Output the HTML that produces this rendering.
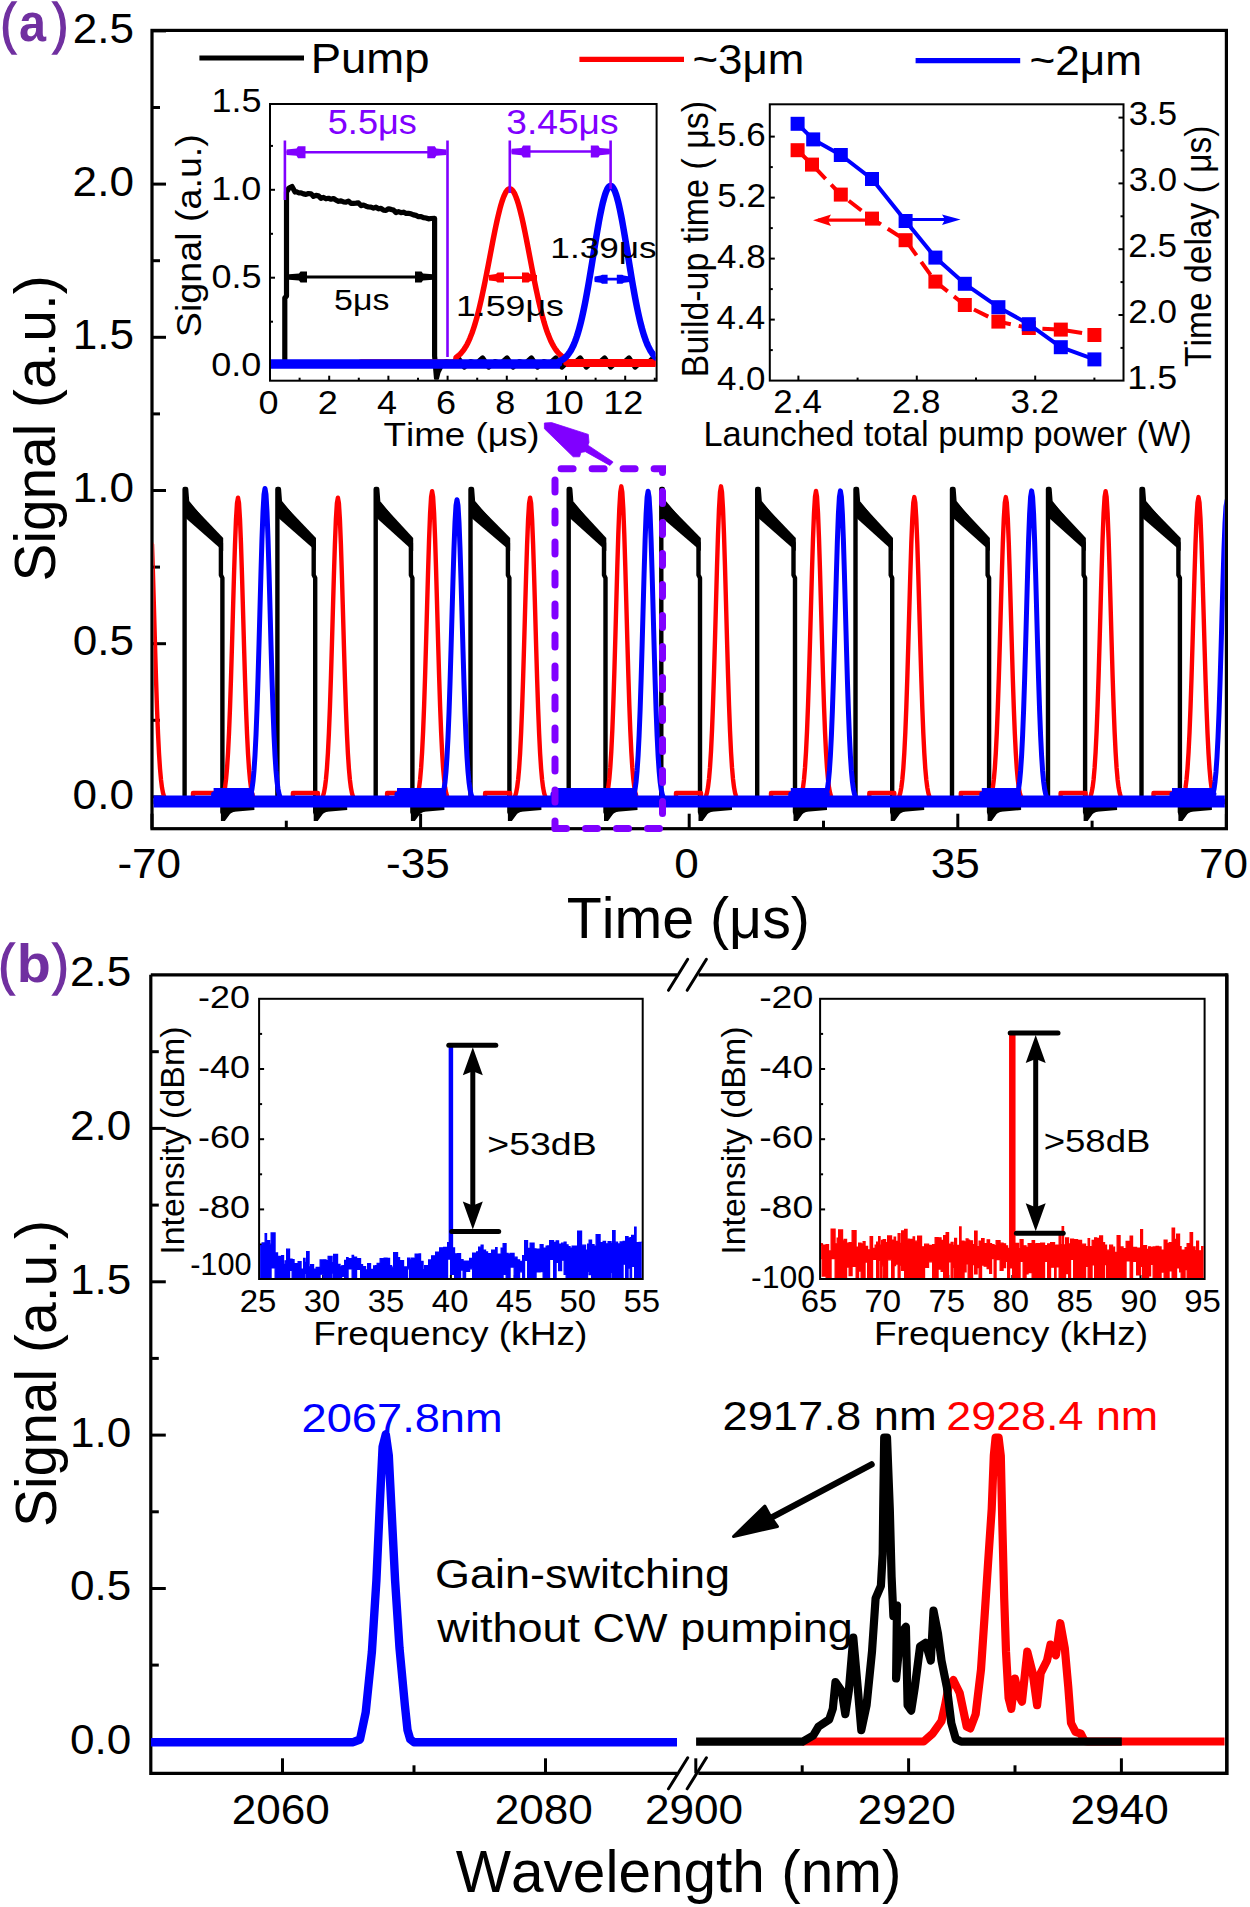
<!DOCTYPE html>
<html><head><meta charset="utf-8"><style>
html,body{margin:0;padding:0;background:#fff;}
svg{display:block;}
text{font-family:"Liberation Sans",sans-serif;font-kerning:none;font-feature-settings:"kern" 0;}
</style></head><body>
<svg width="1250" height="1907" viewBox="0 0 1250 1907">
<rect x="0" y="0" width="1250" height="1907" fill="#fff"/>
<rect x="152.0" y="30.4" width="1074.4" height="798.3" fill="none" stroke="#000" stroke-width="3.2"/>
<line x1="152.0" y1="796.9" x2="166.0" y2="796.9" stroke="#000" stroke-width="3.00"/>
<line x1="152.0" y1="720.3" x2="160.0" y2="720.3" stroke="#000" stroke-width="3.00"/>
<line x1="152.0" y1="643.7" x2="166.0" y2="643.7" stroke="#000" stroke-width="3.00"/>
<line x1="152.0" y1="567.1" x2="160.0" y2="567.1" stroke="#000" stroke-width="3.00"/>
<line x1="152.0" y1="490.5" x2="166.0" y2="490.5" stroke="#000" stroke-width="3.00"/>
<line x1="152.0" y1="413.9" x2="160.0" y2="413.9" stroke="#000" stroke-width="3.00"/>
<line x1="152.0" y1="337.3" x2="166.0" y2="337.3" stroke="#000" stroke-width="3.00"/>
<line x1="152.0" y1="260.7" x2="160.0" y2="260.7" stroke="#000" stroke-width="3.00"/>
<line x1="152.0" y1="184.1" x2="166.0" y2="184.1" stroke="#000" stroke-width="3.00"/>
<line x1="152.0" y1="107.5" x2="160.0" y2="107.5" stroke="#000" stroke-width="3.00"/>
<line x1="152.0" y1="30.9" x2="166.0" y2="30.9" stroke="#000" stroke-width="3.00"/>
<line x1="152.0" y1="828.7" x2="152.0" y2="813.7" stroke="#000" stroke-width="3.00"/>
<line x1="420.6" y1="828.7" x2="420.6" y2="813.7" stroke="#000" stroke-width="3.00"/>
<line x1="689.2" y1="828.7" x2="689.2" y2="813.7" stroke="#000" stroke-width="3.00"/>
<line x1="957.8" y1="828.7" x2="957.8" y2="813.7" stroke="#000" stroke-width="3.00"/>
<line x1="1226.4" y1="828.7" x2="1226.4" y2="813.7" stroke="#000" stroke-width="3.00"/>
<line x1="286.3" y1="828.7" x2="286.3" y2="820.7" stroke="#000" stroke-width="3.00"/>
<line x1="554.9" y1="828.7" x2="554.9" y2="820.7" stroke="#000" stroke-width="3.00"/>
<line x1="823.5" y1="828.7" x2="823.5" y2="820.7" stroke="#000" stroke-width="3.00"/>
<line x1="1092.1" y1="828.7" x2="1092.1" y2="820.7" stroke="#000" stroke-width="3.00"/>
<text transform="translate(72.62,808.50) scale(1.0500,1)" font-size="42.00" fill="#000">0.0</text>
<text transform="translate(72.75,655.30) scale(1.0500,1)" font-size="42.00" fill="#000">0.5</text>
<text transform="translate(72.62,502.10) scale(1.0500,1)" font-size="42.00" fill="#000">1.0</text>
<text transform="translate(72.75,348.90) scale(1.0500,1)" font-size="42.00" fill="#000">1.5</text>
<text transform="translate(72.62,195.70) scale(1.0500,1)" font-size="42.00" fill="#000">2.0</text>
<text transform="translate(72.75,42.50) scale(1.0500,1)" font-size="42.00" fill="#000">2.5</text>
<text transform="translate(117.41,878.30) scale(1.0500,1)" font-size="42.00" fill="#000">-70</text>
<text transform="translate(386.08,878.30) scale(1.0500,1)" font-size="42.00" fill="#000">-35</text>
<text transform="translate(674.34,878.30) scale(1.0500,1)" font-size="42.00" fill="#000">0</text>
<text transform="translate(930.76,878.30) scale(1.0500,1)" font-size="42.00" fill="#000">35</text>
<text transform="translate(1199.00,878.30) scale(1.0500,1)" font-size="42.00" fill="#000">70</text>
<text transform="translate(566.71,937.60) scale(1.0060,1)" font-size="57.00" fill="#000">Time (μs)</text>
<text transform="translate(55.00,581.48) rotate(-90) scale(0.9960,1)" font-size="57.00" fill="#000">Signal (a.u.)</text>
<text transform="translate(0.38,42.18) scale(0.8545,1)" font-size="55.17" fill="#7030a0" stroke="#7030a0" stroke-width="1.6">(</text>
<text transform="translate(18.98,40.97) scale(0.9021,1)" font-size="53.85" fill="#7030a0" font-weight="bold">a</text>
<text transform="translate(52.52,42.18) scale(0.8545,1)" font-size="55.17" fill="#7030a0" stroke="#7030a0" stroke-width="1.6">)</text>
<line x1="199.4" y1="58.0" x2="304.0" y2="58.0" stroke="#000" stroke-width="5.20"/>
<text transform="translate(310.67,72.60) scale(1.0695,1)" font-size="42.50" fill="#000">Pump</text>
<line x1="579.4" y1="59.4" x2="684.0" y2="59.4" stroke="#ff0000" stroke-width="5.20"/>
<text transform="translate(692.43,74.10) scale(1.0315,1)" font-size="42.50" fill="#000">~3μm</text>
<line x1="915.6" y1="60.6" x2="1020.2" y2="60.6" stroke="#0000ff" stroke-width="5.20"/>
<text transform="translate(1029.41,75.30) scale(1.0402,1)" font-size="42.50" fill="#000">~2μm</text>
<clipPath id="ca"><rect x="153.6" y="32.0" width="1071.2" height="795.1"/></clipPath>
<g clip-path="url(#ca)">
<polyline points="152.0,802.0 183.6,802.0 184.6,801.0 184.6,489.0 186.1,489.0 187.1,502.0 220.9,543.0 220.9,575.0 222.4,578.0 222.4,812.0 224.4,817.0 228.4,812.0 236.4,808.0 250.4,804.0 262.4,802.0 276.4,802.0 277.4,801.0 277.4,489.0 278.9,489.0 279.9,502.0 313.7,543.0 313.7,575.0 315.2,578.0 315.2,812.0 317.2,817.0 321.2,812.0 329.2,808.0 343.2,804.0 355.2,802.0 374.7,802.0 375.7,801.0 375.7,489.0 377.2,489.0 378.2,502.0 410.9,543.0 410.9,575.0 412.4,578.0 412.4,812.0 414.4,817.0 418.4,812.0 426.4,808.0 440.4,804.0 452.4,802.0 469.5,802.0 470.5,801.0 470.5,489.0 472.0,489.0 473.0,502.0 507.9,543.0 507.9,575.0 509.4,578.0 509.4,812.0 511.4,817.0 515.4,812.0 523.4,808.0 537.4,804.0 549.4,802.0 567.7,802.0 568.7,801.0 568.7,489.0 570.2,489.0 571.2,502.0 604.0,543.0 604.0,575.0 605.5,578.0 605.5,812.0 607.5,817.0 611.5,812.0 619.5,808.0 633.5,804.0 645.5,802.0 660.3,802.0 661.3,801.0 661.3,489.0 662.8,489.0 663.8,502.0 698.5,543.0 698.5,575.0 700.0,578.0 700.0,812.0 702.0,817.0 706.0,812.0 714.0,808.0 728.0,804.0 740.0,802.0 756.2,802.0 757.2,801.0 757.2,489.0 758.7,489.0 759.7,502.0 793.5,543.0 793.5,575.0 795.0,578.0 795.0,812.0 797.0,817.0 801.0,812.0 809.0,808.0 823.0,804.0 835.0,802.0 854.5,802.0 855.5,801.0 855.5,489.0 857.0,489.0 858.0,502.0 890.7,543.0 890.7,575.0 892.2,578.0 892.2,812.0 894.2,817.0 898.2,812.0 906.2,808.0 920.2,804.0 932.2,802.0 951.0,802.0 952.0,801.0 952.0,489.0 953.5,489.0 954.5,502.0 987.6,543.0 987.6,575.0 989.1,578.0 989.1,812.0 991.1,817.0 995.1,812.0 1003.1,808.0 1017.1,804.0 1029.1,802.0 1047.0,802.0 1048.0,801.0 1048.0,489.0 1049.5,489.0 1050.5,502.0 1083.6,543.0 1083.6,575.0 1085.1,578.0 1085.1,812.0 1087.1,817.0 1091.1,812.0 1099.1,808.0 1113.1,804.0 1125.1,802.0 1140.5,802.0 1141.5,801.0 1141.5,489.0 1143.0,489.0 1144.0,502.0 1178.4,543.0 1178.4,575.0 1179.9,578.0 1179.9,812.0 1181.9,817.0 1185.9,812.0 1193.9,808.0 1207.9,804.0 1219.9,802.0 1226.4,802.0" fill="none" stroke="#000" stroke-width="4.40" stroke-linejoin="round" stroke-linecap="round"/>
<polygon points="185.6,499.0 192.6,506.0 223.2,538.0 223.2,551.0 185.6,518.0" fill="#000"/>
<polygon points="220.9,806 220.9,821 224.9,821 231.4,812 254.4,810 254.4,806" fill="#000"/>
<polygon points="278.4,499.0 285.4,506.0 316.0,538.0 316.0,551.0 278.4,518.0" fill="#000"/>
<polygon points="313.7,806 313.7,821 317.7,821 324.2,812 347.2,810 347.2,806" fill="#000"/>
<polygon points="376.7,499.0 383.7,506.0 413.2,538.0 413.2,551.0 376.7,518.0" fill="#000"/>
<polygon points="410.9,806 410.9,821 414.9,821 421.4,812 444.4,810 444.4,806" fill="#000"/>
<polygon points="471.5,499.0 478.5,506.0 510.2,538.0 510.2,551.0 471.5,518.0" fill="#000"/>
<polygon points="507.9,806 507.9,821 511.9,821 518.4,812 541.4,810 541.4,806" fill="#000"/>
<polygon points="569.7,499.0 576.7,506.0 606.3,538.0 606.3,551.0 569.7,518.0" fill="#000"/>
<polygon points="604.0,806 604.0,821 608.0,821 614.5,812 637.5,810 637.5,806" fill="#000"/>
<polygon points="662.3,499.0 669.3,506.0 700.8,538.0 700.8,551.0 662.3,518.0" fill="#000"/>
<polygon points="698.5,806 698.5,821 702.5,821 709.0,812 732.0,810 732.0,806" fill="#000"/>
<polygon points="758.2,499.0 765.2,506.0 795.8,538.0 795.8,551.0 758.2,518.0" fill="#000"/>
<polygon points="793.5,806 793.5,821 797.5,821 804.0,812 827.0,810 827.0,806" fill="#000"/>
<polygon points="856.5,499.0 863.5,506.0 893.0,538.0 893.0,551.0 856.5,518.0" fill="#000"/>
<polygon points="890.7,806 890.7,821 894.7,821 901.2,812 924.2,810 924.2,806" fill="#000"/>
<polygon points="953.0,499.0 960.0,506.0 989.9,538.0 989.9,551.0 953.0,518.0" fill="#000"/>
<polygon points="987.6,806 987.6,821 991.6,821 998.1,812 1021.1,810 1021.1,806" fill="#000"/>
<polygon points="1049.0,499.0 1056.0,506.0 1085.9,538.0 1085.9,551.0 1049.0,518.0" fill="#000"/>
<polygon points="1083.6,806 1083.6,821 1087.6,821 1094.1,812 1117.1,810 1117.1,806" fill="#000"/>
<polygon points="1142.5,499.0 1149.5,506.0 1180.7,538.0 1180.7,551.0 1142.5,518.0" fill="#000"/>
<polygon points="1178.4,806 1178.4,821 1182.4,821 1188.9,812 1211.9,810 1211.9,806" fill="#000"/>
<polyline points="152.0,544.2 153.0,575.4 154.0,609.9 155.0,645.1 156.0,678.4 157.0,708.1 158.0,733.2 159.0,753.3 160.0,768.6 161.0,779.8 162.0,787.7 163.0,792.9 164.0,796.3 165.0,798.3 166.0,799.6 167.0,800.2 168.0,800.6 169.0,800.8 170.0,800.9 171.0,801.0 173.0,801.0 193.0,801.0 193.0,793.0 218.0,793.0 218.0,800.8 219.0,800.6 220.0,800.2 221.0,799.6 222.0,798.3 223.0,796.3 224.0,792.9 225.0,787.7 226.0,779.8 227.0,768.6 228.0,753.3 229.0,733.2 230.0,708.1 231.0,678.4 232.0,645.1 233.0,609.9 234.0,575.4 235.0,544.2 236.0,519.3 237.0,503.2 238.0,497.7 239.0,503.2 240.0,519.3 241.0,544.2 242.0,575.4 243.0,609.9 244.0,645.1 245.0,678.4 246.0,708.1 247.0,733.2 248.0,753.3 249.0,768.6 250.0,779.8 251.0,787.7 252.0,792.9 253.0,796.3 254.0,798.3 255.0,799.6 256.0,800.2 257.0,800.6 258.0,800.8 259.0,800.9 260.0,801.0 262.0,801.0 292.9,801.0 292.9,793.0 317.9,793.0 317.9,800.8 318.9,800.6 319.9,800.2 320.9,799.6 321.9,798.3 322.9,796.3 323.9,792.9 324.9,787.7 325.9,779.8 326.9,768.6 327.9,753.3 328.9,733.2 329.9,708.1 330.9,678.4 331.9,645.1 332.9,609.9 333.9,575.4 334.9,544.2 335.9,519.3 336.9,503.2 337.9,497.7 338.9,503.2 339.9,519.3 340.9,544.2 341.9,575.4 342.9,609.9 343.9,645.1 344.9,678.4 345.9,708.1 346.9,733.2 347.9,753.3 348.9,768.6 349.9,779.8 350.9,787.7 351.9,792.9 352.9,796.3 353.9,798.3 354.9,799.6 355.9,800.2 356.9,800.6 357.9,800.8 358.9,800.9 359.9,801.0 361.9,801.0 387.1,801.0 387.1,793.0 412.1,793.0 412.1,800.8 413.1,800.6 414.1,800.2 415.1,799.5 416.1,798.3 417.1,796.2 418.1,792.7 419.1,787.4 420.1,779.4 421.1,767.9 422.1,752.2 423.1,731.7 424.1,706.1 425.1,675.8 426.1,641.8 427.1,605.9 428.1,570.6 429.1,538.7 430.1,513.3 431.1,496.9 432.1,491.2 433.1,496.9 434.1,513.3 435.1,538.7 436.1,570.6 437.1,605.9 438.1,641.8 439.1,675.8 440.1,706.1 441.1,731.7 442.1,752.2 443.1,767.9 444.1,779.4 445.1,787.4 446.1,792.7 447.1,796.2 448.1,798.3 449.1,799.5 450.1,800.2 451.1,800.6 452.1,800.8 453.1,800.9 454.1,801.0 456.1,801.0 485.1,801.0 485.1,793.0 510.1,793.0 510.1,800.8 511.1,800.6 512.1,800.2 513.1,799.6 514.1,798.3 515.1,796.3 516.1,792.9 517.1,787.7 518.1,779.8 519.1,768.6 520.1,753.3 521.1,733.2 522.1,708.1 523.1,678.4 524.1,645.1 525.1,609.9 526.1,575.4 527.1,544.2 528.1,519.3 529.1,503.2 530.1,497.7 531.1,503.2 532.1,519.3 533.1,544.2 534.1,575.4 535.1,609.9 536.1,645.1 537.1,678.4 538.1,708.1 539.1,733.2 540.1,753.3 541.1,768.6 542.1,779.8 543.1,787.7 544.1,792.9 545.1,796.3 546.1,798.3 547.1,799.6 548.1,800.2 549.1,800.6 550.1,800.8 551.1,800.9 552.1,801.0 554.1,801.0 576.3,801.0 576.3,793.0 601.3,793.0 601.3,800.8 602.3,800.6 603.3,800.2 604.3,799.5 605.3,798.2 606.3,796.1 607.3,792.6 608.3,787.2 609.3,779.0 610.3,767.4 611.3,751.5 612.3,730.6 613.3,704.6 614.3,673.8 615.3,639.3 616.3,602.8 617.3,566.9 618.3,534.6 619.3,508.8 620.3,492.1 621.3,486.3 622.3,492.1 623.3,508.8 624.3,534.6 625.3,566.9 626.3,602.8 627.3,639.3 628.3,673.8 629.3,704.6 630.3,730.6 631.3,751.5 632.3,767.4 633.3,779.0 634.3,787.2 635.3,792.6 636.3,796.1 637.3,798.2 638.3,799.5 639.3,800.2 640.3,800.6 641.3,800.8 642.3,800.9 643.3,801.0 645.3,801.0 676.0,801.0 676.0,793.0 701.0,793.0 701.0,800.8 702.0,800.6 703.0,800.2 704.0,799.5 705.0,798.2 706.0,796.1 707.0,792.6 708.0,787.2 709.0,779.0 710.0,767.4 711.0,751.5 712.0,730.6 713.0,704.6 714.0,673.8 715.0,639.3 716.0,602.8 717.0,566.9 718.0,534.6 719.0,508.8 720.0,492.1 721.0,486.3 722.0,492.1 723.0,508.8 724.0,534.6 725.0,566.9 726.0,602.8 727.0,639.3 728.0,673.8 729.0,704.6 730.0,730.6 731.0,751.5 732.0,767.4 733.0,779.0 734.0,787.2 735.0,792.6 736.0,796.1 737.0,798.2 738.0,799.5 739.0,800.2 740.0,800.6 741.0,800.8 742.0,800.9 743.0,801.0 745.0,801.0 771.0,801.0 771.0,793.0 796.0,793.0 796.0,800.8 797.0,800.6 798.0,800.2 799.0,799.5 800.0,798.3 801.0,796.2 802.0,792.7 803.0,787.4 804.0,779.4 805.0,767.9 806.0,752.2 807.0,731.7 808.0,706.0 809.0,675.7 810.0,641.6 811.0,605.7 812.0,570.3 813.0,538.5 814.0,513.0 815.0,496.6 816.0,490.9 817.0,496.6 818.0,513.0 819.0,538.5 820.0,570.3 821.0,605.7 822.0,641.6 823.0,675.7 824.0,706.0 825.0,731.7 826.0,752.2 827.0,767.9 828.0,779.4 829.0,787.4 830.0,792.7 831.0,796.2 832.0,798.3 833.0,799.5 834.0,800.2 835.0,800.6 836.0,800.8 837.0,800.9 838.0,801.0 840.0,801.0 869.3,801.0 869.3,793.0 894.3,793.0 894.3,800.8 895.3,800.6 896.3,800.2 897.3,799.5 898.3,798.3 899.3,796.3 900.3,792.9 901.3,787.6 902.3,779.8 903.3,768.6 904.3,753.2 905.3,733.0 906.3,707.9 907.3,678.2 908.3,644.8 909.3,609.6 910.3,574.9 911.3,543.6 912.3,518.7 913.3,502.6 914.3,497.1 915.3,502.6 916.3,518.7 917.3,543.6 918.3,574.9 919.3,609.6 920.3,644.8 921.3,678.2 922.3,707.9 923.3,733.0 924.3,753.2 925.3,768.6 926.3,779.8 927.3,787.6 928.3,792.9 929.3,796.3 930.3,798.3 931.3,799.5 932.3,800.2 933.3,800.6 934.3,800.8 935.3,800.9 936.3,801.0 938.3,801.0 960.8,801.0 960.8,793.0 985.8,793.0 985.8,800.8 986.8,800.6 987.8,800.2 988.8,799.5 989.8,798.3 990.8,796.3 991.8,792.9 992.8,787.6 993.8,779.8 994.8,768.6 995.8,753.2 996.8,733.0 997.8,707.9 998.8,678.2 999.8,644.8 1000.8,609.6 1001.8,574.9 1002.8,543.6 1003.8,518.7 1004.8,502.6 1005.8,497.1 1006.8,502.6 1007.8,518.7 1008.8,543.6 1009.8,574.9 1010.8,609.6 1011.8,644.8 1012.8,678.2 1013.8,707.9 1014.8,733.0 1015.8,753.2 1016.8,768.6 1017.8,779.8 1018.8,787.6 1019.8,792.9 1020.8,796.3 1021.8,798.3 1022.8,799.5 1023.8,800.2 1024.8,800.6 1025.8,800.8 1026.8,800.9 1027.8,801.0 1029.8,801.0 1060.6,801.0 1060.6,793.0 1085.6,793.0 1085.6,800.8 1086.6,800.6 1087.6,800.2 1088.6,799.5 1089.6,798.3 1090.6,796.2 1091.6,792.7 1092.6,787.4 1093.6,779.4 1094.6,767.9 1095.6,752.2 1096.6,731.7 1097.6,706.1 1098.6,675.8 1099.6,641.8 1100.6,605.9 1101.6,570.6 1102.6,538.7 1103.6,513.3 1104.6,496.9 1105.6,491.2 1106.6,496.9 1107.6,513.3 1108.6,538.7 1109.6,570.6 1110.6,605.9 1111.6,641.8 1112.6,675.8 1113.6,706.1 1114.6,731.7 1115.6,752.2 1116.6,767.9 1117.6,779.4 1118.6,787.4 1119.6,792.7 1120.6,796.2 1121.6,798.3 1122.6,799.5 1123.6,800.2 1124.6,800.6 1125.6,800.8 1126.6,800.9 1127.6,801.0 1129.6,801.0 1153.5,801.0 1153.5,793.0 1178.5,793.0 1178.5,800.8 1179.5,800.6 1180.5,800.2 1181.5,799.5 1182.5,798.3 1183.5,796.3 1184.5,792.9 1185.5,787.6 1186.5,779.8 1187.5,768.6 1188.5,753.2 1189.5,733.0 1190.5,707.9 1191.5,678.2 1192.5,644.8 1193.5,609.6 1194.5,574.9 1195.5,543.6 1196.5,518.7 1197.5,502.6 1198.5,497.1 1199.5,502.6 1200.5,518.7 1201.5,543.6 1202.5,574.9 1203.5,609.6 1204.5,644.8 1205.5,678.2 1206.5,707.9 1207.5,733.0 1208.5,753.2 1209.5,768.6 1210.5,779.8 1211.5,787.6 1212.5,792.9 1213.5,796.3 1214.5,798.3 1215.5,799.5 1216.5,800.2 1217.5,800.6 1218.5,800.8 1219.5,800.9 1220.5,801.0 1226.4,801.0" fill="none" stroke="#ff0000" stroke-width="4.40" stroke-linejoin="round" stroke-linecap="round"/>
<polyline points="152.0,801.0 213.6,801.0 213.6,794.0 252.0,794.0 251.0,793.8 252.0,788.9 253.0,781.4 254.0,770.5 255.0,755.3 256.0,735.1 257.0,709.7 258.0,679.2 259.0,644.6 260.0,607.7 261.0,571.2 262.0,538.1 263.0,511.6 264.0,494.4 265.0,488.5 266.0,494.4 267.0,511.6 268.0,538.1 269.0,571.2 270.0,607.7 271.0,644.6 272.0,679.2 273.0,709.7 274.0,735.1 275.0,755.3 276.0,770.5 277.0,781.4 278.0,788.9 279.0,793.8 280.0,796.9 281.0,798.7 282.0,799.8 397.0,801.0 397.0,794.0 444.0,794.0 443.0,794.0 444.0,789.3 445.0,782.1 446.0,771.6 447.0,756.9 448.0,737.5 449.0,713.0 450.0,683.6 451.0,650.2 452.0,614.7 453.0,579.6 454.0,547.7 455.0,522.1 456.0,505.5 457.0,499.8 458.0,505.5 459.0,522.1 460.0,547.7 461.0,579.6 462.0,614.7 463.0,650.2 464.0,683.6 465.0,713.0 466.0,737.5 467.0,756.9 468.0,771.6 469.0,782.1 470.0,789.3 471.0,794.0 472.0,797.0 473.0,798.8 474.0,799.8 553.0,801.0 553.0,794.0 635.1,794.0 634.1,793.8 635.1,789.0 636.1,781.6 637.1,770.7 638.1,755.7 639.1,735.7 640.1,710.5 641.1,680.2 642.1,645.9 643.1,609.4 644.1,573.2 645.1,540.4 646.1,514.2 647.1,497.1 648.1,491.2 649.1,497.1 650.1,514.2 651.1,540.4 652.1,573.2 653.1,609.4 654.1,645.9 655.1,680.2 656.1,710.5 657.1,735.7 658.1,755.7 659.1,770.7 660.1,781.6 661.1,789.0 662.1,793.8 663.1,796.9 664.1,798.7 665.1,799.8 790.8,801.0 790.8,794.0 827.4,794.0 826.4,793.8 827.4,789.0 828.4,781.5 829.4,770.7 830.4,755.6 831.4,735.7 832.4,710.4 833.4,680.1 834.4,645.8 835.4,609.2 836.4,573.0 837.4,540.2 838.4,513.9 839.4,496.8 840.4,490.9 841.4,496.8 842.4,513.9 843.4,540.2 844.4,573.0 845.4,609.2 846.4,645.8 847.4,680.1 848.4,710.4 849.4,735.7 850.4,755.6 851.4,770.7 852.4,781.5 853.4,789.0 854.4,793.8 855.4,796.9 856.4,798.7 857.4,799.8 981.8,801.0 981.8,794.0 1018.6,794.0 1017.6,793.8 1018.6,789.0 1019.6,781.5 1020.6,770.7 1021.6,755.6 1022.6,735.7 1023.6,710.4 1024.6,680.1 1025.6,645.8 1026.6,609.2 1027.6,573.0 1028.6,540.2 1029.6,513.9 1030.6,496.8 1031.6,490.9 1032.6,496.8 1033.6,513.9 1034.6,540.2 1035.6,573.0 1036.6,609.2 1037.6,645.8 1038.6,680.1 1039.6,710.4 1040.6,735.7 1041.6,755.6 1042.6,770.7 1043.6,781.5 1044.6,789.0 1045.6,793.8 1046.6,796.9 1047.6,798.7 1048.6,799.8 1172.0,801.0 1172.0,794.0 1214.0,794.0 1213.0,794.1 1214.0,789.3 1215.0,782.1 1216.0,771.7 1217.0,757.1 1218.0,737.7 1219.0,713.3 1220.0,683.9 1221.0,650.7 1222.0,615.3 1223.0,580.2 1224.0,548.4 1225.0,523.0 1226.0,506.4 1227.0,500.7 1228.0,506.4 1229.0,523.0 1230.0,548.4 1231.0,580.2 1232.0,615.3 1233.0,650.7 1234.0,683.9 1235.0,713.3 1236.0,737.7 1237.0,757.1 1238.0,771.7 1239.0,782.1 1240.0,789.3 1241.0,794.1 1242.0,797.0 1243.0,798.8 1244.0,799.8 1226.4,801.0" fill="none" stroke="#0000ff" stroke-width="5.00" stroke-linejoin="round" stroke-linecap="round"/>
<polyline points="152.0,801.4 1226.4,801.4" fill="none" stroke="#0000ff" stroke-width="12.00" stroke-linejoin="round" stroke-linecap="butt"/>
<polyline points="213.6,794.0 253.0,794.0" fill="none" stroke="#0000ff" stroke-width="12.00" stroke-linejoin="round" stroke-linecap="butt"/>
<polyline points="397.0,794.0 445.0,794.0" fill="none" stroke="#0000ff" stroke-width="12.00" stroke-linejoin="round" stroke-linecap="butt"/>
<polyline points="553.0,794.0 636.1,794.0" fill="none" stroke="#0000ff" stroke-width="12.00" stroke-linejoin="round" stroke-linecap="butt"/>
<polyline points="790.8,794.0 828.4,794.0" fill="none" stroke="#0000ff" stroke-width="12.00" stroke-linejoin="round" stroke-linecap="butt"/>
<polyline points="981.8,794.0 1019.6,794.0" fill="none" stroke="#0000ff" stroke-width="12.00" stroke-linejoin="round" stroke-linecap="butt"/>
<polyline points="1172.0,794.0 1215.0,794.0" fill="none" stroke="#0000ff" stroke-width="12.00" stroke-linejoin="round" stroke-linecap="butt"/>
</g>
<path d="M555,468.8 H662.5 V828.5" fill="none" stroke="#8000ff" stroke-width="7" stroke-dasharray="12 19" stroke-linecap="round" stroke-dashoffset="24.9"/>
<path d="M555,468.8 V828.5" fill="none" stroke="#8000ff" stroke-width="7" stroke-dasharray="12 19" stroke-linecap="round" stroke-dashoffset="19.7"/>
<path d="M555,828.5 H662.5" fill="none" stroke="#8000ff" stroke-width="7" stroke-dasharray="12 19" stroke-linecap="round" stroke-dashoffset="0.5"/>
<polygon points="544.4,423 551.6,422.6 588.3,434.4 589,442.4 587.9,445.2 612.8,461.8 612.8,462.5 609.9,465.4 585.4,451.7 581,452.4 579.6,456.8 573.2,456.8 544.4,428.7" fill="#8000ff" stroke="#8000ff" stroke-width="0.8" stroke-linejoin="round"/>
<rect x="270.0" y="104.0" width="386.6" height="276.7" fill="#fff" stroke="#000" stroke-width="2"/>
<line x1="270.0" y1="365.6" x2="275.0" y2="365.6" stroke="#000" stroke-width="2.00"/>
<line x1="270.0" y1="321.7" x2="273.0" y2="321.7" stroke="#000" stroke-width="2.00"/>
<line x1="270.0" y1="277.7" x2="275.0" y2="277.7" stroke="#000" stroke-width="2.00"/>
<line x1="270.0" y1="233.8" x2="273.0" y2="233.8" stroke="#000" stroke-width="2.00"/>
<line x1="270.0" y1="189.8" x2="275.0" y2="189.8" stroke="#000" stroke-width="2.00"/>
<line x1="270.0" y1="145.9" x2="273.0" y2="145.9" stroke="#000" stroke-width="2.00"/>
<line x1="299.6" y1="380.7" x2="299.6" y2="377.7" stroke="#000" stroke-width="2.00"/>
<line x1="329.2" y1="380.7" x2="329.2" y2="375.7" stroke="#000" stroke-width="2.00"/>
<line x1="358.8" y1="380.7" x2="358.8" y2="377.7" stroke="#000" stroke-width="2.00"/>
<line x1="388.4" y1="380.7" x2="388.4" y2="375.7" stroke="#000" stroke-width="2.00"/>
<line x1="418.0" y1="380.7" x2="418.0" y2="377.7" stroke="#000" stroke-width="2.00"/>
<line x1="447.6" y1="380.7" x2="447.6" y2="375.7" stroke="#000" stroke-width="2.00"/>
<line x1="477.2" y1="380.7" x2="477.2" y2="377.7" stroke="#000" stroke-width="2.00"/>
<line x1="506.8" y1="380.7" x2="506.8" y2="375.7" stroke="#000" stroke-width="2.00"/>
<line x1="536.4" y1="380.7" x2="536.4" y2="377.7" stroke="#000" stroke-width="2.00"/>
<line x1="566.0" y1="380.7" x2="566.0" y2="375.7" stroke="#000" stroke-width="2.00"/>
<line x1="595.6" y1="380.7" x2="595.6" y2="377.7" stroke="#000" stroke-width="2.00"/>
<line x1="625.2" y1="380.7" x2="625.2" y2="375.7" stroke="#000" stroke-width="2.00"/>
<line x1="654.8" y1="380.7" x2="654.8" y2="377.7" stroke="#000" stroke-width="2.00"/>
<text transform="translate(211.31,375.90) scale(1.0600,1)" font-size="34.00" fill="#000">0.0</text>
<text transform="translate(211.41,288.00) scale(1.0600,1)" font-size="34.00" fill="#000">0.5</text>
<text transform="translate(211.31,200.10) scale(1.0600,1)" font-size="34.00" fill="#000">1.0</text>
<text transform="translate(211.41,112.20) scale(1.0600,1)" font-size="34.00" fill="#000">1.5</text>
<text transform="translate(258.48,413.60) scale(1.0600,1)" font-size="34.00" fill="#000">0</text>
<text transform="translate(317.68,413.60) scale(1.0600,1)" font-size="34.00" fill="#000">2</text>
<text transform="translate(376.99,413.60) scale(1.0600,1)" font-size="34.00" fill="#000">4</text>
<text transform="translate(435.95,413.60) scale(1.0600,1)" font-size="34.00" fill="#000">6</text>
<text transform="translate(495.28,413.60) scale(1.0600,1)" font-size="34.00" fill="#000">8</text>
<text transform="translate(543.79,413.60) scale(1.0600,1)" font-size="34.00" fill="#000">10</text>
<text transform="translate(603.19,413.60) scale(1.0600,1)" font-size="34.00" fill="#000">12</text>
<text transform="translate(383.57,445.80) scale(1.0816,1)" font-size="34.00" fill="#000">Time (μs)</text>
<text transform="translate(200.80,337.21) rotate(-90) scale(1.0614,1)" font-size="35.50" fill="#000">Signal (a.u.)</text>
<clipPath id="c1"><rect x="271.0" y="105.0" width="384.6" height="274.7"/></clipPath>
<g clip-path="url(#c1)">
<polyline points="270.0,363.5 284.0,363.5 284.8,364.0 284.8,298.0 286.5,296.0 286.5,192.0 289.0,188.0 292.0,186.5 295.0,192.0 296.0,191.5 298.5,192.8 301.0,192.8 303.5,193.9 306.0,194.4 308.5,193.5 311.0,193.8 313.5,196.4 316.0,195.4 318.5,195.8 321.0,198.3 323.5,197.4 326.0,198.8 328.5,198.3 331.0,199.2 333.5,198.5 336.0,200.2 338.5,201.3 341.0,200.9 343.5,201.9 346.0,202.2 348.5,201.1 351.0,203.4 353.5,203.4 356.0,203.2 358.5,202.9 361.0,205.6 363.5,205.0 366.0,206.2 368.5,207.0 371.0,207.1 373.5,208.1 376.0,207.2 378.5,208.8 381.0,208.3 383.5,210.1 386.0,210.4 388.5,208.8 391.0,209.4 393.5,210.1 396.0,212.5 398.5,211.6 401.0,212.6 403.5,212.2 406.0,213.3 408.5,213.4 411.0,213.8 413.5,214.9 416.0,215.4 418.5,216.7 421.0,216.6 423.5,217.7 426.0,218.0 428.5,218.8 431.0,218.5 434.6,218.4 434.6,356.0 436.5,378.0 438.0,372.0 441.0,366.0 446.0,362.0 446.0,361.6 452.1,363.4 458.2,358.0 464.3,367.0 470.4,361.6 476.5,363.4 482.6,358.0 488.7,367.0 494.8,361.6 500.9,363.4 507.0,358.0 513.1,367.0 519.2,361.6 525.3,363.4 531.4,358.0 537.5,367.0 543.6,361.6 549.7,363.4 555.8,358.0 561.9,367.0 568.0,361.6 574.1,363.4 580.2,358.0 586.3,367.0 592.4,361.6 598.5,363.4 604.6,358.0 610.7,367.0 616.8,361.6 622.9,363.4 629.0,358.0 635.1,367.0 641.2,361.6 647.3,363.4 653.4,358.0" fill="none" stroke="#000" stroke-width="5.20" stroke-linejoin="round" stroke-linecap="round"/>
<polyline points="361.0,362.0 456.0,362.0 456.0,357.4 457.0,356.7 458.0,355.9 459.0,355.1 460.0,354.2 461.0,353.2 462.0,352.0 463.0,350.8 464.0,349.4 465.0,347.9 466.0,346.3 467.0,344.5 468.0,342.5 469.0,340.4 470.0,338.1 471.0,335.6 472.0,333.0 473.0,330.1 474.0,327.1 475.0,323.9 476.0,320.5 477.0,316.9 478.0,313.1 479.0,309.1 480.0,304.9 481.0,300.6 482.0,296.1 483.0,291.4 484.0,286.6 485.0,281.7 486.0,276.7 487.0,271.6 488.0,266.4 489.0,261.2 490.0,255.9 491.0,250.7 492.0,245.5 493.0,240.3 494.0,235.3 495.0,230.3 496.0,225.5 497.0,220.9 498.0,216.5 499.0,212.3 500.0,208.4 501.0,204.8 502.0,201.5 503.0,198.6 504.0,196.0 505.0,193.8 506.0,191.9 507.0,190.5 508.0,189.5 509.0,189.0 510.0,188.8 511.0,189.1 512.0,189.9 513.0,191.0 514.0,192.6 515.0,194.6 516.0,197.0 517.0,199.7 518.0,202.8 519.0,206.2 520.0,210.0 521.0,214.0 522.0,218.2 523.0,222.7 524.0,227.4 525.0,232.3 526.0,237.3 527.0,242.4 528.0,247.5 529.0,252.8 530.0,258.0 531.0,263.3 532.0,268.5 533.0,273.6 534.0,278.7 535.0,283.7 536.0,288.6 537.0,293.3 538.0,297.9 539.0,302.4 540.0,306.6 541.0,310.7 542.0,314.6 543.0,318.3 544.0,321.9 545.0,325.2 546.0,328.3 547.0,331.3 548.0,334.1 549.0,336.6 550.0,339.0 551.0,341.3 552.0,343.3 553.0,345.2 554.0,346.9 555.0,348.5 556.0,350.0 557.0,351.3 558.0,352.5 559.0,353.6 560.0,354.6 561.0,355.5 562.0,356.3 563.0,357.0 564.0,357.6 565.0,358.2 566.0,358.7 566.0,363.0 656.6,363.0" fill="none" stroke="#ff0000" stroke-width="5.50" stroke-linejoin="round" stroke-linecap="round"/>
<polyline points="566.0,363.0 656.6,363.0" fill="none" stroke="#ff0000" stroke-width="8.00" stroke-linejoin="round" stroke-linecap="butt"/>
<polyline points="270.0,363.5 559.0,363.5 559.0,361.3 560.0,360.9 561.0,360.4 562.0,359.9 563.0,359.3 564.0,358.6 565.0,357.8 566.0,356.9 567.0,355.8 568.0,354.6 569.0,353.3 570.0,351.8 571.0,350.2 572.0,348.3 573.0,346.3 574.0,344.1 575.0,341.6 576.0,338.9 577.0,336.0 578.0,332.8 579.0,329.4 580.0,325.7 581.0,321.7 582.0,317.5 583.0,313.0 584.0,308.3 585.0,303.3 586.0,298.1 587.0,292.7 588.0,287.1 589.0,281.3 590.0,275.4 591.0,269.4 592.0,263.2 593.0,257.0 594.0,250.9 595.0,244.7 596.0,238.6 597.0,232.7 598.0,226.9 599.0,221.3 600.0,216.0 601.0,211.0 602.0,206.4 603.0,202.1 604.0,198.3 605.0,194.9 606.0,192.0 607.0,189.7 608.0,187.9 609.0,186.7 610.0,186.0 611.0,186.0 612.0,186.5 613.0,187.6 614.0,189.3 615.0,191.5 616.0,194.3 617.0,197.6 618.0,201.3 619.0,205.5 620.0,210.1 621.0,215.0 622.0,220.2 623.0,225.8 624.0,231.5 625.0,237.4 626.0,243.5 627.0,249.6 628.0,255.8 629.0,262.0 630.0,268.1 631.0,274.2 632.0,280.2 633.0,286.0 634.0,291.6 635.0,297.1 636.0,302.3 637.0,307.3 638.0,312.1 639.0,316.6 640.0,320.9 641.0,324.9 642.0,328.7 643.0,332.1 644.0,335.4 645.0,338.3 646.0,341.1 647.0,343.6 648.0,345.9 649.0,347.9 650.0,349.8 651.0,351.5 652.0,353.0 653.0,354.4 654.0,355.6 655.0,356.7 656.0,357.6" fill="none" stroke="#0000ff" stroke-width="6.50" stroke-linejoin="round" stroke-linecap="round"/>
<polyline points="270.0,364.0 560.0,364.0" fill="none" stroke="#0000ff" stroke-width="9.50" stroke-linejoin="round" stroke-linecap="butt"/>
</g>
<line x1="284.9" y1="140.5" x2="284.9" y2="200.0" stroke="#8000ff" stroke-width="2.60"/>
<line x1="447.5" y1="140.5" x2="447.5" y2="357.0" stroke="#8000ff" stroke-width="2.60"/>
<line x1="509.8" y1="140.5" x2="509.8" y2="193.0" stroke="#8000ff" stroke-width="2.60"/>
<line x1="610.6" y1="140.5" x2="610.6" y2="189.0" stroke="#8000ff" stroke-width="2.60"/>
<line x1="286.5" y1="152.2" x2="446.3" y2="152.2" stroke="#8000ff" stroke-width="2.50"/>
<polygon points="286.5,149.4 296.5,148.6 298.0,146.2 305.5,146.2 305.5,158.2 298.0,158.2 296.5,155.8 286.5,154.9" fill="#8000ff"/>
<polygon points="446.3,149.4 436.3,148.6 434.8,146.2 427.3,146.2 427.3,158.2 434.8,158.2 436.3,155.8 446.3,154.9" fill="#8000ff"/>
<line x1="511.5" y1="151.6" x2="609.8" y2="151.6" stroke="#8000ff" stroke-width="2.50"/>
<polygon points="511.5,148.8 521.5,148.0 523.0,145.6 530.5,145.6 530.5,157.6 523.0,157.6 521.5,155.2 511.5,154.3" fill="#8000ff"/>
<polygon points="609.8,148.8 599.8,148.0 598.3,145.6 590.8,145.6 590.8,157.6 598.3,157.6 599.8,155.2 609.8,154.3" fill="#8000ff"/>
<text transform="translate(327.75,134.40) scale(1.0328,1)" font-size="35.00" fill="#8000ff">5.5μs</text>
<text transform="translate(506.29,133.60) scale(1.0612,1)" font-size="35.00" fill="#8000ff">3.45μs</text>
<line x1="289.0" y1="277.0" x2="433.0" y2="277.0" stroke="#000" stroke-width="2.80"/>
<polygon points="289.0,274.2 299.0,273.4 300.5,271.5 307.0,271.5 307.0,282.5 300.5,282.5 299.0,280.6 289.0,279.8" fill="#000"/>
<polygon points="433.0,274.2 423.0,273.4 421.5,271.5 415.0,271.5 415.0,282.5 421.5,282.5 423.0,280.6 433.0,279.8" fill="#000"/>
<text transform="translate(334.04,309.60) scale(1.1310,1)" font-size="30.00" fill="#000">5μs</text>
<line x1="489.0" y1="277.6" x2="537.0" y2="277.6" stroke="#ff0000" stroke-width="2.80"/>
<polygon points="489.0,274.9 496.0,274.1 497.5,272.6 504.0,272.6 504.0,282.6 497.5,282.6 496.0,281.2 489.0,280.4" fill="#ff0000"/>
<polygon points="537.0,274.9 530.0,274.1 528.5,272.6 522.0,272.6 522.0,282.6 528.5,282.6 530.0,281.2 537.0,280.4" fill="#ff0000"/>
<text transform="translate(455.88,316.00) scale(1.1912,1)" font-size="30.00" fill="#000">1.59μs</text>
<line x1="594.6" y1="279.2" x2="629.8" y2="279.2" stroke="#0000ff" stroke-width="2.80"/>
<polygon points="594.6,276.4 600.6,275.6 602.1,274.7 607.6,274.7 607.6,283.7 602.1,283.7 600.6,282.8 594.6,281.9" fill="#0000ff"/>
<polygon points="629.8,276.4 623.8,275.6 622.3,274.7 616.8,274.7 616.8,283.7 622.3,283.7 623.8,282.8 629.8,281.9" fill="#0000ff"/>
<text transform="translate(550.32,258.40) scale(1.1729,1)" font-size="30.00" fill="#000">1.39μs</text>
<rect x="769.8" y="104.3" width="353.7" height="276.3" fill="#fff" stroke="#000" stroke-width="2"/>
<line x1="769.8" y1="350.1" x2="772.8" y2="350.1" stroke="#000" stroke-width="2.00"/>
<line x1="769.8" y1="319.6" x2="774.8" y2="319.6" stroke="#000" stroke-width="2.00"/>
<line x1="769.8" y1="289.1" x2="772.8" y2="289.1" stroke="#000" stroke-width="2.00"/>
<line x1="769.8" y1="258.6" x2="774.8" y2="258.6" stroke="#000" stroke-width="2.00"/>
<line x1="769.8" y1="228.1" x2="772.8" y2="228.1" stroke="#000" stroke-width="2.00"/>
<line x1="769.8" y1="197.6" x2="774.8" y2="197.6" stroke="#000" stroke-width="2.00"/>
<line x1="769.8" y1="167.1" x2="772.8" y2="167.1" stroke="#000" stroke-width="2.00"/>
<line x1="769.8" y1="136.6" x2="774.8" y2="136.6" stroke="#000" stroke-width="2.00"/>
<line x1="1123.5" y1="347.9" x2="1120.5" y2="347.9" stroke="#000" stroke-width="2.00"/>
<line x1="1123.5" y1="315.0" x2="1118.5" y2="315.0" stroke="#000" stroke-width="2.00"/>
<line x1="1123.5" y1="282.1" x2="1120.5" y2="282.1" stroke="#000" stroke-width="2.00"/>
<line x1="1123.5" y1="249.2" x2="1118.5" y2="249.2" stroke="#000" stroke-width="2.00"/>
<line x1="1123.5" y1="216.3" x2="1120.5" y2="216.3" stroke="#000" stroke-width="2.00"/>
<line x1="1123.5" y1="183.4" x2="1118.5" y2="183.4" stroke="#000" stroke-width="2.00"/>
<line x1="1123.5" y1="150.5" x2="1120.5" y2="150.5" stroke="#000" stroke-width="2.00"/>
<line x1="1123.5" y1="117.6" x2="1118.5" y2="117.6" stroke="#000" stroke-width="2.00"/>
<line x1="798.4" y1="380.6" x2="798.4" y2="375.6" stroke="#000" stroke-width="2.00"/>
<line x1="857.6" y1="380.6" x2="857.6" y2="377.6" stroke="#000" stroke-width="2.00"/>
<line x1="916.8" y1="380.6" x2="916.8" y2="375.6" stroke="#000" stroke-width="2.00"/>
<line x1="976.0" y1="380.6" x2="976.0" y2="377.6" stroke="#000" stroke-width="2.00"/>
<line x1="1035.2" y1="380.6" x2="1035.2" y2="375.6" stroke="#000" stroke-width="2.00"/>
<line x1="1094.4" y1="380.6" x2="1094.4" y2="377.6" stroke="#000" stroke-width="2.00"/>
<text transform="translate(716.94,389.50) scale(1.0600,1)" font-size="33.00" fill="#000">4.0</text>
<text transform="translate(716.60,328.50) scale(1.0600,1)" font-size="33.00" fill="#000">4.4</text>
<text transform="translate(717.09,267.50) scale(1.0600,1)" font-size="33.00" fill="#000">4.8</text>
<text transform="translate(717.33,206.50) scale(1.0600,1)" font-size="33.00" fill="#000">5.2</text>
<text transform="translate(717.11,145.50) scale(1.0600,1)" font-size="33.00" fill="#000">5.6</text>
<text transform="translate(1127.27,388.50) scale(1.0864,1)" font-size="33.00" fill="#000">1.5</text>
<text transform="translate(1128.24,322.70) scale(1.0623,1)" font-size="33.00" fill="#000">2.0</text>
<text transform="translate(1128.23,256.90) scale(1.0647,1)" font-size="33.00" fill="#000">2.5</text>
<text transform="translate(1128.68,191.10) scale(1.0524,1)" font-size="33.00" fill="#000">3.0</text>
<text transform="translate(1128.67,125.30) scale(1.0548,1)" font-size="33.00" fill="#000">3.5</text>
<text transform="translate(773.22,412.60) scale(1.0600,1)" font-size="33.00" fill="#000">2.4</text>
<text transform="translate(891.87,412.60) scale(1.0600,1)" font-size="33.00" fill="#000">2.8</text>
<text transform="translate(1010.60,412.60) scale(1.0600,1)" font-size="33.00" fill="#000">3.2</text>
<text transform="translate(703.48,445.50) scale(0.9669,1)" font-size="35.50" fill="#000">Launched total pump power (W)</text>
<text transform="translate(708.20,377.19) rotate(-90) scale(0.9181,1)" font-size="37.00" fill="#000">Build-up time ( μs)</text>
<text transform="translate(1210.50,366.96) rotate(-90) scale(0.9085,1)" font-size="37.00" fill="#000">Time delay ( μs)</text>
<polyline points="797.6,150.2 812.0,164.6 840.8,194.6 872.0,218.6 905.6,240.2 935.4,281.6 964.8,305.0 998.4,321.6 1028.8,328.0 1060.8,329.6 1094.4,335.0" fill="none" stroke="#ff0000" stroke-width="4.00" stroke-linejoin="round" stroke-dasharray="16 8" stroke-linecap="butt"/>
<rect x="790.6" y="143.2" width="14" height="14" fill="#ff0000"/>
<rect x="805.0" y="157.6" width="14" height="14" fill="#ff0000"/>
<rect x="833.8" y="187.6" width="14" height="14" fill="#ff0000"/>
<rect x="865.0" y="211.6" width="14" height="14" fill="#ff0000"/>
<rect x="898.6" y="233.2" width="14" height="14" fill="#ff0000"/>
<rect x="928.4" y="274.6" width="14" height="14" fill="#ff0000"/>
<rect x="957.8" y="298.0" width="14" height="14" fill="#ff0000"/>
<rect x="991.4" y="314.6" width="14" height="14" fill="#ff0000"/>
<rect x="1021.8" y="321.0" width="14" height="14" fill="#ff0000"/>
<rect x="1053.8" y="322.6" width="14" height="14" fill="#ff0000"/>
<rect x="1087.4" y="328.0" width="14" height="14" fill="#ff0000"/>
<polyline points="797.6,123.8 813.2,139.4 840.8,155.0 872.0,179.0 905.6,221.0 935.4,257.6 964.8,283.8 998.4,307.2 1028.8,324.2 1060.8,347.2 1094.4,359.4" fill="none" stroke="#0000ff" stroke-width="4.00" stroke-linejoin="round" stroke-linecap="round"/>
<rect x="790.6" y="116.8" width="14" height="14" fill="#0000ff"/>
<rect x="806.2" y="132.4" width="14" height="14" fill="#0000ff"/>
<rect x="833.8" y="148.0" width="14" height="14" fill="#0000ff"/>
<rect x="865.0" y="172.0" width="14" height="14" fill="#0000ff"/>
<rect x="898.6" y="214.0" width="14" height="14" fill="#0000ff"/>
<rect x="928.4" y="250.6" width="14" height="14" fill="#0000ff"/>
<rect x="957.8" y="276.8" width="14" height="14" fill="#0000ff"/>
<rect x="991.4" y="300.2" width="14" height="14" fill="#0000ff"/>
<rect x="1021.8" y="317.2" width="14" height="14" fill="#0000ff"/>
<rect x="1053.8" y="340.2" width="14" height="14" fill="#0000ff"/>
<rect x="1087.4" y="352.4" width="14" height="14" fill="#0000ff"/>
<line x1="872.0" y1="220.2" x2="818.0" y2="220.2" stroke="#ff0000" stroke-width="3.20"/>
<polygon points="813,220.2 831,214.5 828,220.2 831,226" fill="#ff0000"/>
<line x1="905.0" y1="219.5" x2="955.0" y2="219.5" stroke="#0000ff" stroke-width="3.20"/>
<polygon points="960.6,219.5 942,214.5 945,219.5 942,225" fill="#0000ff"/>
<path d="M698.6,974.8 L1226.8,974.8 M1226.8,974.8 L1226.8,1773.3 L698.6,1773.3 L698.6,1773.3 M677.0,1773.3 L150.8,1773.3 L150.8,974.8" fill="none" stroke="#000" stroke-width="3.2" stroke-linejoin="miter"/>
<line x1="150.8" y1="974.8" x2="677.0" y2="974.8" stroke="#000" stroke-width="3.20"/>
<line x1="1226.8" y1="973.2" x2="1226.8" y2="1774.9" stroke="#000" stroke-width="3.20"/>
<line x1="698.6" y1="1773.3" x2="1226.8" y2="1773.3" stroke="#000" stroke-width="3.20"/>
<line x1="668.5" y1="990.3" x2="687.7" y2="959.3" stroke="#000" stroke-width="3.00" stroke-linecap="round"/>
<line x1="687.2" y1="990.3" x2="706.4" y2="959.3" stroke="#000" stroke-width="3.00" stroke-linecap="round"/>
<line x1="668.5" y1="1788.8" x2="687.7" y2="1757.8" stroke="#000" stroke-width="3.00" stroke-linecap="round"/>
<line x1="687.2" y1="1788.8" x2="706.4" y2="1757.8" stroke="#000" stroke-width="3.00" stroke-linecap="round"/>
<line x1="150.8" y1="1741.8" x2="165.8" y2="1741.8" stroke="#000" stroke-width="3.00"/>
<line x1="150.8" y1="1665.1" x2="158.8" y2="1665.1" stroke="#000" stroke-width="3.00"/>
<line x1="150.8" y1="1588.5" x2="165.8" y2="1588.5" stroke="#000" stroke-width="3.00"/>
<line x1="150.8" y1="1511.8" x2="158.8" y2="1511.8" stroke="#000" stroke-width="3.00"/>
<line x1="150.8" y1="1435.1" x2="165.8" y2="1435.1" stroke="#000" stroke-width="3.00"/>
<line x1="150.8" y1="1358.4" x2="158.8" y2="1358.4" stroke="#000" stroke-width="3.00"/>
<line x1="150.8" y1="1281.8" x2="165.8" y2="1281.8" stroke="#000" stroke-width="3.00"/>
<line x1="150.8" y1="1205.1" x2="158.8" y2="1205.1" stroke="#000" stroke-width="3.00"/>
<line x1="150.8" y1="1128.4" x2="165.8" y2="1128.4" stroke="#000" stroke-width="3.00"/>
<line x1="150.8" y1="1051.7" x2="158.8" y2="1051.7" stroke="#000" stroke-width="3.00"/>
<text transform="translate(69.92,1753.60) scale(1.0500,1)" font-size="42.00" fill="#000">0.0</text>
<text transform="translate(70.05,1600.25) scale(1.0500,1)" font-size="42.00" fill="#000">0.5</text>
<text transform="translate(69.92,1446.90) scale(1.0500,1)" font-size="42.00" fill="#000">1.0</text>
<text transform="translate(70.05,1293.55) scale(1.0500,1)" font-size="42.00" fill="#000">1.5</text>
<text transform="translate(69.92,1140.20) scale(1.0500,1)" font-size="42.00" fill="#000">2.0</text>
<text transform="translate(70.05,985.80) scale(1.0500,1)" font-size="42.00" fill="#000">2.5</text>
<line x1="282.5" y1="1773.3" x2="282.5" y2="1758.3" stroke="#000" stroke-width="3.00"/>
<line x1="545.5" y1="1773.3" x2="545.5" y2="1758.3" stroke="#000" stroke-width="3.00"/>
<line x1="414.0" y1="1773.3" x2="414.0" y2="1765.3" stroke="#000" stroke-width="3.00"/>
<line x1="695.8" y1="1773.3" x2="695.8" y2="1758.3" stroke="#000" stroke-width="3.00"/>
<line x1="908.6" y1="1773.3" x2="908.6" y2="1758.3" stroke="#000" stroke-width="3.00"/>
<line x1="1121.4" y1="1773.3" x2="1121.4" y2="1758.3" stroke="#000" stroke-width="3.00"/>
<line x1="802.2" y1="1773.3" x2="802.2" y2="1765.3" stroke="#000" stroke-width="3.00"/>
<line x1="1015.0" y1="1773.3" x2="1015.0" y2="1765.3" stroke="#000" stroke-width="3.00"/>
<text transform="translate(231.70,1823.80) scale(1.0500,1)" font-size="42.00" fill="#000">2060</text>
<text transform="translate(494.70,1823.80) scale(1.0500,1)" font-size="42.00" fill="#000">2080</text>
<text transform="translate(645.00,1823.80) scale(1.0500,1)" font-size="42.00" fill="#000">2900</text>
<text transform="translate(857.80,1823.80) scale(1.0500,1)" font-size="42.00" fill="#000">2920</text>
<text transform="translate(1070.60,1823.80) scale(1.0500,1)" font-size="42.00" fill="#000">2940</text>
<text transform="translate(455.74,1892.00) scale(0.9926,1)" font-size="59.00" fill="#000">Wavelength (nm)</text>
<text transform="translate(55.70,1527.09) rotate(-90) scale(0.9990,1)" font-size="57.00" fill="#000">Signal (a.u.)</text>
<text transform="translate(-1.39,983.11) scale(0.8700,1)" font-size="55.49" fill="#7030a0" stroke="#7030a0" stroke-width="1.6">(</text>
<text transform="translate(16.72,981.78) scale(1.0394,1)" font-size="53.65" fill="#7030a0" font-weight="bold">b</text>
<text transform="translate(52.52,983.11) scale(0.8700,1)" font-size="55.49" fill="#7030a0" stroke="#7030a0" stroke-width="1.6">)</text>
<polyline points="151.0,1742.2 353.2,1742.2 360.0,1739.5 365.7,1712.4 371.9,1651.8 376.4,1580.5 380.0,1500.2 382.6,1446.7 385.8,1434.3 388.8,1455.7 391.5,1509.0 395.1,1580.5 399.5,1648.2 404.9,1705.3 407.5,1730.0 410.2,1739.2 414.0,1742.2 677.0,1742.2" fill="none" stroke="#0000ff" stroke-width="8.40" stroke-linejoin="round" stroke-linecap="butt"/>
<polyline points="802.5,1741.5 923.7,1741.5 932.6,1733.7 941.5,1721.2 945.1,1705.2 948.5,1687.0 953.4,1680.2 959.6,1692.7 966.7,1726.6 970.3,1728.4 975.7,1714.1 981.0,1669.6 984.6,1616.1 988.1,1562.6 991.7,1509.1 993.8,1455.7 995.6,1437.5 998.6,1437.5 1000.8,1455.7 1002.4,1527.0 1004.2,1598.3 1006.0,1651.7 1008.6,1698.1 1011.3,1708.8 1014.9,1678.5 1018.4,1694.5 1022.0,1701.6 1027.3,1651.7 1032.7,1673.1 1037.1,1705.2 1040.7,1673.1 1047.0,1660.6 1050.5,1644.6 1055.9,1655.3 1060.3,1623.2 1064.8,1648.2 1068.3,1687.4 1071.0,1723.0 1075.5,1731.9 1080.8,1733.7 1084.4,1740.9 1088.0,1741.5 1224.5,1741.5" fill="none" stroke="#ff0000" stroke-width="8.20" stroke-linejoin="round" stroke-linecap="butt"/>
<polyline points="696.1,1741.7 802.5,1741.7 813.2,1735.5 818.5,1726.6 829.2,1719.5 832.8,1708.8 835.5,1682.0 841.7,1691.0 845.3,1714.1 848.8,1691.0 853.3,1637.5 857.7,1687.4 861.3,1730.2 866.6,1705.2 872.0,1651.7 875.6,1598.3 880.9,1585.8 882.7,1553.7 883.2,1509.1 884.2,1437.5 887.0,1437.5 889.8,1509.1 891.6,1576.9 893.4,1616.1 897.0,1605.4 896.1,1678.5 900.5,1633.9 905.9,1626.8 907.6,1705.2 911.2,1710.6 914.8,1687.4 920.1,1646.4 925.5,1642.8 930.8,1660.6 933.5,1610.7 938.0,1633.9 941.5,1660.6 946.9,1687.4 951.3,1723.0 955.8,1739.0 961.1,1741.7 1121.8,1741.7" fill="none" stroke="#000" stroke-width="8.20" stroke-linejoin="round" stroke-linecap="butt"/>
<text transform="translate(301.52,1432.00) scale(1.1036,1)" font-size="41.00" fill="#0000ff">2067.8nm</text>
<text transform="translate(722.42,1429.70) scale(1.1064,1)" font-size="41.00" fill="#000">2917.8 nm</text>
<text transform="translate(946.24,1429.70) scale(1.0943,1)" font-size="41.00" fill="#ff0000">2928.4 nm</text>
<text transform="translate(435.04,1587.80) scale(1.0974,1)" font-size="41.00" fill="#000">Gain-switching</text>
<text transform="translate(437.37,1641.60) scale(1.0988,1)" font-size="41.00" fill="#000">without CW pumping</text>
<line x1="871.5" y1="1464.5" x2="765.0" y2="1521.0" stroke="#000" stroke-width="6.50" stroke-linecap="round"/>
<polygon points="733.5,1536.5 764.8,1506 770.5,1516.5 777.5,1526.5" fill="#000" stroke="#000" stroke-width="3" stroke-linejoin="round"/>
<rect x="259.1" y="998.8" width="383.6" height="280.2" fill="#fff" stroke="#000" stroke-width="2"/>
<line x1="259.1" y1="1033.9" x2="262.1" y2="1033.9" stroke="#000" stroke-width="2.00"/>
<line x1="259.1" y1="1069.0" x2="264.1" y2="1069.0" stroke="#000" stroke-width="2.00"/>
<line x1="259.1" y1="1104.1" x2="262.1" y2="1104.1" stroke="#000" stroke-width="2.00"/>
<line x1="259.1" y1="1139.2" x2="264.1" y2="1139.2" stroke="#000" stroke-width="2.00"/>
<line x1="259.1" y1="1174.3" x2="262.1" y2="1174.3" stroke="#000" stroke-width="2.00"/>
<line x1="259.1" y1="1209.4" x2="264.1" y2="1209.4" stroke="#000" stroke-width="2.00"/>
<line x1="259.1" y1="1244.5" x2="262.1" y2="1244.5" stroke="#000" stroke-width="2.00"/>
<line x1="323.0" y1="1279.0" x2="323.0" y2="1275.0" stroke="#000" stroke-width="2.00"/>
<line x1="387.0" y1="1279.0" x2="387.0" y2="1275.0" stroke="#000" stroke-width="2.00"/>
<line x1="450.9" y1="1279.0" x2="450.9" y2="1275.0" stroke="#000" stroke-width="2.00"/>
<line x1="514.8" y1="1279.0" x2="514.8" y2="1275.0" stroke="#000" stroke-width="2.00"/>
<line x1="578.8" y1="1279.0" x2="578.8" y2="1275.0" stroke="#000" stroke-width="2.00"/>
<clipPath id="cb11"><rect x="260.1" y="999.8" width="381.6" height="278.2"/></clipPath>
<g clip-path="url(#cb11)">
<polygon points="259.1,1245.5 262.1,1245.5 262.1,1242.9 265.1,1242.9 265.1,1233.6 266.6,1233.6 266.6,1240.5 269.6,1240.5 269.6,1244.2 271.1,1244.2 271.1,1232.9 275.1,1232.9 275.1,1252.9 277.6,1252.9 277.6,1256.3 281.6,1256.3 281.6,1255.7 283.6,1255.7 283.6,1264.3 285.1,1264.3 285.1,1260.8 286.6,1260.8 286.6,1249.2 289.6,1249.2 289.6,1259.0 292.1,1259.0 292.1,1259.7 294.1,1259.7 294.1,1263.6 298.1,1263.6 298.1,1261.6 301.1,1261.6 301.1,1269.1 303.6,1269.1 303.6,1258.3 305.1,1258.3 305.1,1262.4 306.6,1262.4 306.6,1251.6 309.1,1251.6 309.1,1266.9 310.6,1266.9 310.6,1264.6 313.6,1264.6 313.6,1269.0 316.1,1269.0 316.1,1267.4 320.1,1267.4 320.1,1259.9 323.1,1259.9 323.1,1259.8 326.1,1259.8 326.1,1260.7 328.1,1260.7 328.1,1256.4 332.1,1256.4 332.1,1262.6 333.6,1262.6 333.6,1254.3 337.6,1254.3 337.6,1264.4 340.1,1264.4 340.1,1266.9 341.6,1266.9 341.6,1265.8 343.1,1265.8 343.1,1265.7 344.6,1265.7 344.6,1260.4 346.6,1260.4 346.6,1257.5 348.1,1257.5 348.1,1258.5 352.1,1258.5 352.1,1255.3 353.6,1255.3 353.6,1257.1 356.6,1257.1 356.6,1258.7 360.6,1258.7 360.6,1264.5 362.6,1264.5 362.6,1266.6 365.6,1266.6 365.6,1269.8 367.6,1269.8 367.6,1263.5 370.6,1263.5 370.6,1269.4 373.6,1269.4 373.6,1265.9 375.6,1265.9 375.6,1265.6 377.1,1265.6 377.1,1263.3 380.1,1263.3 380.1,1258.7 384.1,1258.7 384.1,1258.0 387.1,1258.0 387.1,1258.3 389.6,1258.3 389.6,1265.6 391.6,1265.6 391.6,1267.2 393.6,1267.2 393.6,1252.6 397.6,1252.6 397.6,1257.5 399.6,1257.5 399.6,1260.7 403.6,1260.7 403.6,1266.9 407.6,1266.9 407.6,1258.2 409.6,1258.2 409.6,1259.9 411.1,1259.9 411.1,1258.1 413.6,1258.1 413.6,1258.4 415.1,1258.4 415.1,1254.1 419.1,1254.1 419.1,1253.9 420.6,1253.9 420.6,1261.4 423.1,1261.4 423.1,1269.7 424.6,1269.7 424.6,1265.6 428.6,1265.6 428.6,1259.9 431.6,1259.9 431.6,1255.8 435.6,1255.8 435.6,1252.0 439.6,1252.0 439.6,1247.8 443.6,1247.8 443.6,1247.4 447.6,1247.4 447.6,1242.5 450.6,1242.5 450.6,1247.9 454.6,1247.9 454.6,1253.8 457.6,1253.8 457.6,1253.6 460.6,1253.6 460.6,1259.5 463.1,1259.5 463.1,1261.1 465.6,1261.1 465.6,1261.0 469.6,1261.0 469.6,1258.3 472.6,1258.3 472.6,1253.1 476.6,1253.1 476.6,1251.8 478.6,1251.8 478.6,1247.2 481.1,1247.2 481.1,1245.0 483.1,1245.0 483.1,1250.1 485.6,1250.1 485.6,1251.9 487.6,1251.9 487.6,1253.7 491.6,1253.7 491.6,1250.0 495.6,1250.0 495.6,1247.6 497.1,1247.6 497.1,1254.0 501.1,1254.0 501.1,1248.1 503.1,1248.1 503.1,1243.6 506.1,1243.6 506.1,1253.3 508.1,1253.3 508.1,1254.1 510.1,1254.1 510.1,1253.3 514.1,1253.3 514.1,1257.2 517.1,1257.2 517.1,1259.8 519.6,1259.8 519.6,1261.3 522.6,1261.3 522.6,1255.6 524.6,1255.6 524.6,1240.7 527.6,1240.7 527.6,1248.3 530.1,1248.3 530.1,1243.1 534.1,1243.1 534.1,1248.8 536.1,1248.8 536.1,1249.1 540.1,1249.1 540.1,1244.6 543.1,1244.6 543.1,1248.1 546.1,1248.1 546.1,1246.0 547.6,1246.0 547.6,1245.9 549.6,1245.9 549.6,1240.7 553.6,1240.7 553.6,1242.3 556.1,1242.3 556.1,1240.8 558.6,1240.8 558.6,1244.0 561.6,1244.0 561.6,1243.2 564.1,1243.2 564.1,1242.0 566.1,1242.0 566.1,1244.8 568.1,1244.8 568.1,1246.7 570.1,1246.7 570.1,1248.0 572.1,1248.0 572.1,1246.0 575.1,1246.0 575.1,1246.1 577.6,1246.1 577.6,1231.1 581.6,1231.1 581.6,1245.2 585.6,1245.2 585.6,1250.1 587.6,1250.1 587.6,1244.0 589.1,1244.0 589.1,1240.0 591.6,1240.0 591.6,1244.5 594.1,1244.5 594.1,1246.0 596.1,1246.0 596.1,1234.6 600.1,1234.6 600.1,1242.6 603.1,1242.6 603.1,1241.4 605.6,1241.4 605.6,1243.8 608.1,1243.8 608.1,1241.6 611.1,1241.6 611.1,1243.3 612.6,1243.3 612.6,1230.6 615.1,1230.6 615.1,1242.2 617.6,1242.2 617.6,1243.9 620.1,1243.9 620.1,1241.9 623.1,1241.9 623.1,1241.4 625.6,1241.4 625.6,1236.6 628.1,1236.6 628.1,1238.1 630.1,1238.1 630.1,1237.7 631.6,1237.7 631.6,1235.4 634.6,1235.4 634.6,1227.1 636.1,1227.1 636.1,1242.6 639.1,1242.6 639.1,1242.3 642.1,1242.3 642.1,1241.8 645.1,1241.8 645.1,1281.4 642.1,1281.4 642.1,1281.4 639.1,1281.4 639.1,1281.4 636.1,1281.4 636.1,1281.4 634.6,1281.4 634.6,1266.5 631.6,1266.5 631.6,1281.4 630.1,1281.4 630.1,1268.1 628.1,1268.1 628.1,1281.4 625.6,1281.4 625.6,1264.2 623.1,1264.2 623.1,1281.4 620.1,1281.4 620.1,1281.4 617.6,1281.4 617.6,1281.4 615.1,1281.4 615.1,1281.4 612.6,1281.4 612.6,1272.3 611.1,1272.3 611.1,1281.4 608.1,1281.4 608.1,1281.4 605.6,1281.4 605.6,1281.4 603.1,1281.4 603.1,1281.4 600.1,1281.4 600.1,1281.4 596.1,1281.4 596.1,1281.4 594.1,1281.4 594.1,1281.4 591.6,1281.4 591.6,1274.6 589.1,1274.6 589.1,1271.5 587.6,1271.5 587.6,1281.4 585.6,1281.4 585.6,1281.4 581.6,1281.4 581.6,1281.4 577.6,1281.4 577.6,1281.4 575.1,1281.4 575.1,1281.4 572.1,1281.4 572.1,1281.4 570.1,1281.4 570.1,1281.4 568.1,1281.4 568.1,1281.4 566.1,1281.4 566.1,1274.4 564.1,1274.4 564.1,1260.2 561.6,1260.2 561.6,1270.6 558.6,1270.6 558.6,1262.5 556.1,1262.5 556.1,1281.4 553.6,1281.4 553.6,1259.5 549.6,1259.5 549.6,1281.4 547.6,1281.4 547.6,1281.4 546.1,1281.4 546.1,1281.4 543.1,1281.4 543.1,1271.6 540.1,1271.6 540.1,1271.9 536.1,1271.9 536.1,1281.4 534.1,1281.4 534.1,1281.4 530.1,1281.4 530.1,1281.4 527.6,1281.4 527.6,1260.5 524.6,1260.5 524.6,1281.4 522.6,1281.4 522.6,1271.8 519.6,1271.8 519.6,1281.4 517.1,1281.4 517.1,1281.4 514.1,1281.4 514.1,1267.1 510.1,1267.1 510.1,1281.4 508.1,1281.4 508.1,1281.4 506.1,1281.4 506.1,1274.4 503.1,1274.4 503.1,1281.4 501.1,1281.4 501.1,1281.4 497.1,1281.4 497.1,1281.4 495.6,1281.4 495.6,1281.4 491.6,1281.4 491.6,1281.4 487.6,1281.4 487.6,1281.4 485.6,1281.4 485.6,1281.4 483.1,1281.4 483.1,1281.4 481.1,1281.4 481.1,1281.4 478.6,1281.4 478.6,1281.4 476.6,1281.4 476.6,1281.4 472.6,1281.4 472.6,1268.8 469.6,1268.8 469.6,1271.5 465.6,1271.5 465.6,1281.4 463.1,1281.4 463.1,1270.1 460.6,1270.1 460.6,1281.4 457.6,1281.4 457.6,1281.4 454.6,1281.4 454.6,1274.5 450.6,1274.5 450.6,1259.1 447.6,1259.1 447.6,1281.4 443.6,1281.4 443.6,1281.4 439.6,1281.4 439.6,1281.4 435.6,1281.4 435.6,1281.4 431.6,1281.4 431.6,1281.4 428.6,1281.4 428.6,1281.4 424.6,1281.4 424.6,1280.2 423.1,1280.2 423.1,1281.4 420.6,1281.4 420.6,1281.4 419.1,1281.4 419.1,1281.4 415.1,1281.4 415.1,1281.4 413.6,1281.4 413.6,1281.4 411.1,1281.4 411.1,1281.4 409.6,1281.4 409.6,1268.8 407.6,1268.8 407.6,1281.4 403.6,1281.4 403.6,1281.4 399.6,1281.4 399.6,1281.4 397.6,1281.4 397.6,1281.4 393.6,1281.4 393.6,1281.4 391.6,1281.4 391.6,1281.4 389.6,1281.4 389.6,1281.4 387.1,1281.4 387.1,1281.4 384.1,1281.4 384.1,1281.4 380.1,1281.4 380.1,1281.4 377.1,1281.4 377.1,1281.4 375.6,1281.4 375.6,1281.4 373.6,1281.4 373.6,1281.4 370.6,1281.4 370.6,1281.4 367.6,1281.4 367.6,1281.4 365.6,1281.4 365.6,1281.4 362.6,1281.4 362.6,1281.4 360.6,1281.4 360.6,1269.3 356.6,1269.3 356.6,1281.4 353.6,1281.4 353.6,1281.4 352.1,1281.4 352.1,1269.0 348.1,1269.0 348.1,1281.4 346.6,1281.4 346.6,1281.4 344.6,1281.4 344.6,1276.2 343.1,1276.2 343.1,1276.3 341.6,1276.3 341.6,1281.4 340.1,1281.4 340.1,1281.4 337.6,1281.4 337.6,1281.4 333.6,1281.4 333.6,1273.1 332.1,1273.1 332.1,1281.4 328.1,1281.4 328.1,1281.4 326.1,1281.4 326.1,1281.4 323.1,1281.4 323.1,1274.2 320.1,1274.2 320.1,1281.4 316.1,1281.4 316.1,1281.4 313.6,1281.4 313.6,1281.4 310.6,1281.4 310.6,1281.4 309.1,1281.4 309.1,1281.4 306.6,1281.4 306.6,1273.5 305.1,1273.5 305.1,1281.4 303.6,1281.4 303.6,1281.4 301.1,1281.4 301.1,1281.4 298.1,1281.4 298.1,1281.4 294.1,1281.4 294.1,1281.4 292.1,1281.4 292.1,1270.3 289.6,1270.3 289.6,1281.4 286.6,1281.4 286.6,1281.4 285.1,1281.4 285.1,1281.4 283.6,1281.4 283.6,1281.4 281.6,1281.4 281.6,1281.4 277.6,1281.4 277.6,1281.4 275.1,1281.4 275.1,1267.9 271.1,1267.9 271.1,1281.4 269.6,1281.4 269.6,1281.4 266.6,1281.4 266.6,1281.4 265.1,1281.4 265.1,1281.4 262.1,1281.4 262.1,1281.4 259.1,1281.4" fill="#0000ff" stroke="#0000ff" stroke-width="1.2" stroke-linejoin="miter"/>
<line x1="450.9" y1="1251.5" x2="450.9" y2="1044.4" stroke="#0000ff" stroke-width="4.50"/>
</g>
<rect x="820.1" y="998.8" width="384.5" height="280.2" fill="#fff" stroke="#000" stroke-width="2"/>
<line x1="820.1" y1="1033.9" x2="823.1" y2="1033.9" stroke="#000" stroke-width="2.00"/>
<line x1="820.1" y1="1069.0" x2="825.1" y2="1069.0" stroke="#000" stroke-width="2.00"/>
<line x1="820.1" y1="1104.1" x2="823.1" y2="1104.1" stroke="#000" stroke-width="2.00"/>
<line x1="820.1" y1="1139.2" x2="825.1" y2="1139.2" stroke="#000" stroke-width="2.00"/>
<line x1="820.1" y1="1174.3" x2="823.1" y2="1174.3" stroke="#000" stroke-width="2.00"/>
<line x1="820.1" y1="1209.4" x2="825.1" y2="1209.4" stroke="#000" stroke-width="2.00"/>
<line x1="820.1" y1="1244.5" x2="823.1" y2="1244.5" stroke="#000" stroke-width="2.00"/>
<line x1="884.2" y1="1279.0" x2="884.2" y2="1275.0" stroke="#000" stroke-width="2.00"/>
<line x1="948.3" y1="1279.0" x2="948.3" y2="1275.0" stroke="#000" stroke-width="2.00"/>
<line x1="1012.3" y1="1279.0" x2="1012.3" y2="1275.0" stroke="#000" stroke-width="2.00"/>
<line x1="1076.4" y1="1279.0" x2="1076.4" y2="1275.0" stroke="#000" stroke-width="2.00"/>
<line x1="1140.5" y1="1279.0" x2="1140.5" y2="1275.0" stroke="#000" stroke-width="2.00"/>
<clipPath id="cb12"><rect x="821.1" y="999.8" width="382.5" height="278.2"/></clipPath>
<g clip-path="url(#cb12)">
<polygon points="820.1,1243.6 822.1,1243.6 822.1,1245.1 826.1,1245.1 826.1,1244.5 828.6,1244.5 828.6,1250.9 831.1,1250.9 831.1,1229.1 835.1,1229.1 835.1,1243.8 837.1,1243.8 837.1,1238.0 838.6,1238.0 838.6,1229.9 842.6,1229.9 842.6,1240.9 844.1,1240.9 844.1,1239.3 846.6,1239.3 846.6,1243.0 849.1,1243.0 849.1,1242.7 852.1,1242.7 852.1,1230.5 856.1,1230.5 856.1,1247.1 858.6,1247.1 858.6,1243.0 861.1,1243.0 861.1,1243.9 863.1,1243.9 863.1,1241.6 865.1,1241.6 865.1,1246.4 867.6,1246.4 867.6,1249.8 870.1,1249.8 870.1,1236.5 872.6,1236.5 872.6,1248.4 875.1,1248.4 875.1,1245.0 876.6,1245.0 876.6,1242.2 878.6,1242.2 878.6,1236.7 880.1,1236.7 880.1,1245.1 881.6,1245.1 881.6,1240.3 883.1,1240.3 883.1,1239.6 885.6,1239.6 885.6,1242.6 887.6,1242.6 887.6,1235.9 891.6,1235.9 891.6,1240.0 894.1,1240.0 894.1,1237.2 895.6,1237.2 895.6,1241.4 898.1,1241.4 898.1,1233.7 900.1,1233.7 900.1,1243.3 901.6,1243.3 901.6,1230.9 904.6,1230.9 904.6,1229.3 907.1,1229.3 907.1,1239.2 909.1,1239.2 909.1,1239.3 913.1,1239.3 913.1,1236.8 914.6,1236.8 914.6,1241.2 917.6,1241.2 917.6,1236.0 921.6,1236.0 921.6,1246.8 924.6,1246.8 924.6,1244.2 928.6,1244.2 928.6,1245.4 932.6,1245.4 932.6,1244.5 935.1,1244.5 935.1,1237.7 938.1,1237.7 938.1,1237.8 941.1,1237.8 941.1,1240.4 943.6,1240.4 943.6,1235.6 946.1,1235.6 946.1,1232.7 948.6,1232.7 948.6,1244.0 951.1,1244.0 951.1,1242.4 953.1,1242.4 953.1,1245.4 954.6,1245.4 954.6,1238.4 956.6,1238.4 956.6,1245.4 959.6,1245.4 959.6,1226.9 961.1,1226.9 961.1,1241.1 964.1,1241.1 964.1,1241.8 966.1,1241.8 966.1,1238.9 968.1,1238.9 968.1,1240.0 969.6,1240.0 969.6,1240.8 972.6,1240.8 972.6,1244.5 974.6,1244.5 974.6,1231.1 977.1,1231.1 977.1,1246.6 979.1,1246.6 979.1,1241.0 981.6,1241.0 981.6,1238.7 984.1,1238.7 984.1,1243.5 987.1,1243.5 987.1,1239.8 989.6,1239.8 989.6,1243.6 991.6,1243.6 991.6,1244.6 994.1,1244.6 994.1,1245.6 996.1,1245.6 996.1,1240.7 1000.1,1240.7 1000.1,1243.2 1003.1,1243.2 1003.1,1243.8 1005.6,1243.8 1005.6,1245.8 1007.6,1245.8 1007.6,1248.3 1009.6,1248.3 1009.6,1248.3 1012.6,1248.3 1012.6,1246.5 1014.6,1246.5 1014.6,1243.4 1018.6,1243.4 1018.6,1248.5 1020.1,1248.5 1020.1,1239.6 1023.1,1239.6 1023.1,1245.8 1026.1,1245.8 1026.1,1247.3 1028.1,1247.3 1028.1,1243.6 1032.1,1243.6 1032.1,1240.6 1034.6,1240.6 1034.6,1243.8 1036.6,1243.8 1036.6,1243.7 1040.6,1243.7 1040.6,1243.1 1044.6,1243.1 1044.6,1245.7 1047.6,1245.7 1047.6,1243.9 1050.6,1243.9 1050.6,1242.6 1054.6,1242.6 1054.6,1245.4 1056.1,1245.4 1056.1,1245.1 1059.1,1245.1 1059.1,1231.6 1060.6,1231.6 1060.6,1244.7 1062.1,1244.7 1062.1,1226.5 1063.6,1226.5 1063.6,1244.9 1065.6,1244.9 1065.6,1237.9 1068.6,1237.9 1068.6,1243.9 1070.6,1243.9 1070.6,1239.1 1073.6,1239.1 1073.6,1239.5 1077.6,1239.5 1077.6,1240.3 1081.6,1240.3 1081.6,1244.2 1085.6,1244.2 1085.6,1246.7 1088.1,1246.7 1088.1,1238.6 1089.6,1238.6 1089.6,1246.7 1092.1,1246.7 1092.1,1240.3 1094.6,1240.3 1094.6,1237.8 1096.6,1237.8 1096.6,1238.4 1099.6,1238.4 1099.6,1235.9 1102.6,1235.9 1102.6,1242.5 1104.6,1242.5 1104.6,1245.0 1106.6,1245.0 1106.6,1250.2 1109.6,1250.2 1109.6,1245.2 1112.6,1245.2 1112.6,1247.2 1114.6,1247.2 1114.6,1252.3 1117.1,1252.3 1117.1,1235.7 1120.1,1235.7 1120.1,1246.9 1123.1,1246.9 1123.1,1248.6 1126.1,1248.6 1126.1,1241.3 1130.1,1241.3 1130.1,1236.0 1132.6,1236.0 1132.6,1247.4 1136.6,1247.4 1136.6,1248.1 1140.6,1248.1 1140.6,1229.5 1142.6,1229.5 1142.6,1245.7 1146.6,1245.7 1146.6,1249.3 1148.6,1249.3 1148.6,1246.8 1150.6,1246.8 1150.6,1247.4 1153.1,1247.4 1153.1,1246.9 1156.1,1246.9 1156.1,1246.3 1158.6,1246.3 1158.6,1246.9 1161.1,1246.9 1161.1,1250.0 1164.1,1250.0 1164.1,1240.0 1167.1,1240.0 1167.1,1243.7 1169.1,1243.7 1169.1,1242.5 1172.1,1242.5 1172.1,1228.0 1174.6,1228.0 1174.6,1239.3 1176.6,1239.3 1176.6,1234.1 1179.6,1234.1 1179.6,1246.6 1181.1,1246.6 1181.1,1250.0 1185.1,1250.0 1185.1,1247.5 1187.1,1247.5 1187.1,1243.7 1190.1,1243.7 1190.1,1232.5 1192.6,1232.5 1192.6,1246.9 1195.1,1246.9 1195.1,1250.5 1196.6,1250.5 1196.6,1241.2 1198.6,1241.2 1198.6,1250.8 1201.6,1250.8 1201.6,1246.6 1204.6,1246.6 1204.6,1245.6 1207.6,1245.6 1207.6,1281.4 1204.6,1281.4 1204.6,1281.4 1201.6,1281.4 1201.6,1281.4 1198.6,1281.4 1198.6,1281.4 1196.6,1281.4 1196.6,1281.4 1195.1,1281.4 1195.1,1281.4 1192.6,1281.4 1192.6,1281.4 1190.1,1281.4 1190.1,1281.4 1187.1,1281.4 1187.1,1269.6 1185.1,1269.6 1185.1,1281.4 1181.1,1281.4 1181.1,1271.9 1179.6,1271.9 1179.6,1268.0 1176.6,1268.0 1176.6,1281.4 1174.6,1281.4 1174.6,1281.4 1172.1,1281.4 1172.1,1270.9 1169.1,1270.9 1169.1,1281.4 1167.1,1281.4 1167.1,1281.4 1164.1,1281.4 1164.1,1272.1 1161.1,1272.1 1161.1,1281.4 1158.6,1281.4 1158.6,1281.4 1156.1,1281.4 1156.1,1281.4 1153.1,1281.4 1153.1,1264.5 1150.6,1264.5 1150.6,1275.9 1148.6,1275.9 1148.6,1281.4 1146.6,1281.4 1146.6,1281.4 1142.6,1281.4 1142.6,1266.3 1140.6,1266.3 1140.6,1275.0 1136.6,1275.0 1136.6,1261.5 1132.6,1261.5 1132.6,1281.4 1130.1,1281.4 1130.1,1261.0 1126.1,1261.0 1126.1,1281.4 1123.1,1281.4 1123.1,1281.4 1120.1,1281.4 1120.1,1281.4 1117.1,1281.4 1117.1,1281.4 1114.6,1281.4 1114.6,1281.4 1112.6,1281.4 1112.6,1281.4 1109.6,1281.4 1109.6,1281.4 1106.6,1281.4 1106.6,1264.7 1104.6,1264.7 1104.6,1281.4 1102.6,1281.4 1102.6,1281.4 1099.6,1281.4 1099.6,1281.4 1096.6,1281.4 1096.6,1281.4 1094.6,1281.4 1094.6,1265.0 1092.1,1265.0 1092.1,1281.4 1089.6,1281.4 1089.6,1281.4 1088.1,1281.4 1088.1,1266.5 1085.6,1266.5 1085.6,1281.4 1081.6,1281.4 1081.6,1281.4 1077.6,1281.4 1077.6,1281.4 1073.6,1281.4 1073.6,1259.3 1070.6,1259.3 1070.6,1281.4 1068.6,1281.4 1068.6,1273.6 1065.6,1273.6 1065.6,1281.4 1063.6,1281.4 1063.6,1281.4 1062.1,1281.4 1062.1,1281.4 1060.6,1281.4 1060.6,1281.4 1059.1,1281.4 1059.1,1267.0 1056.1,1267.0 1056.1,1281.4 1054.6,1281.4 1054.6,1267.2 1050.6,1267.2 1050.6,1281.4 1047.6,1281.4 1047.6,1261.3 1044.6,1261.3 1044.6,1281.4 1040.6,1281.4 1040.6,1281.4 1036.6,1281.4 1036.6,1281.4 1034.6,1281.4 1034.6,1281.4 1032.1,1281.4 1032.1,1272.7 1028.1,1272.7 1028.1,1274.0 1026.1,1274.0 1026.1,1281.4 1023.1,1281.4 1023.1,1261.4 1020.1,1261.4 1020.1,1281.4 1018.6,1281.4 1018.6,1281.4 1014.6,1281.4 1014.6,1281.4 1012.6,1281.4 1012.6,1267.9 1009.6,1267.9 1009.6,1281.4 1007.6,1281.4 1007.6,1261.3 1005.6,1261.3 1005.6,1267.6 1003.1,1267.6 1003.1,1270.3 1000.1,1270.3 1000.1,1259.6 996.1,1259.6 996.1,1281.4 994.1,1281.4 994.1,1258.6 991.6,1258.6 991.6,1273.4 989.6,1273.4 989.6,1268.7 987.1,1268.7 987.1,1266.2 984.1,1266.2 984.1,1265.1 981.6,1265.1 981.6,1281.4 979.1,1281.4 979.1,1267.6 977.1,1267.6 977.1,1273.9 974.6,1273.9 974.6,1264.6 972.6,1264.6 972.6,1281.4 969.6,1281.4 969.6,1281.4 968.1,1281.4 968.1,1264.0 966.1,1264.0 966.1,1272.0 964.1,1272.0 964.1,1281.4 961.1,1281.4 961.1,1281.4 959.6,1281.4 959.6,1281.4 956.6,1281.4 956.6,1281.4 954.6,1281.4 954.6,1267.3 953.1,1267.3 953.1,1281.4 951.1,1281.4 951.1,1261.9 948.6,1261.9 948.6,1281.4 946.1,1281.4 946.1,1281.4 943.6,1281.4 943.6,1271.4 941.1,1271.4 941.1,1269.1 938.1,1269.1 938.1,1281.4 935.1,1281.4 935.1,1281.4 932.6,1281.4 932.6,1261.8 928.6,1261.8 928.6,1267.4 924.6,1267.4 924.6,1281.4 921.6,1281.4 921.6,1281.4 917.6,1281.4 917.6,1281.4 914.6,1281.4 914.6,1281.4 913.1,1281.4 913.1,1281.4 909.1,1281.4 909.1,1281.4 907.1,1281.4 907.1,1281.4 904.6,1281.4 904.6,1270.3 901.6,1270.3 901.6,1265.2 900.1,1265.2 900.1,1281.4 898.1,1281.4 898.1,1264.1 895.6,1264.1 895.6,1265.6 894.1,1265.6 894.1,1281.4 891.6,1281.4 891.6,1259.8 887.6,1259.8 887.6,1281.4 885.6,1281.4 885.6,1281.4 883.1,1281.4 883.1,1265.8 881.6,1265.8 881.6,1281.4 880.1,1281.4 880.1,1260.5 878.6,1260.5 878.6,1281.4 876.6,1281.4 876.6,1259.5 875.1,1259.5 875.1,1259.5 872.6,1259.5 872.6,1281.4 870.1,1281.4 870.1,1281.4 867.6,1281.4 867.6,1262.1 865.1,1262.1 865.1,1281.4 863.1,1281.4 863.1,1281.4 861.1,1281.4 861.1,1271.1 858.6,1271.1 858.6,1281.4 856.1,1281.4 856.1,1266.4 852.1,1266.4 852.1,1275.6 849.1,1275.6 849.1,1267.1 846.6,1267.1 846.6,1281.4 844.1,1281.4 844.1,1281.4 842.6,1281.4 842.6,1281.4 838.6,1281.4 838.6,1281.4 837.1,1281.4 837.1,1281.4 835.1,1281.4 835.1,1258.7 831.1,1258.7 831.1,1281.4 828.6,1281.4 828.6,1281.4 826.1,1281.4 826.1,1276.1 822.1,1276.1 822.1,1258.6 820.1,1258.6" fill="#ff0000" stroke="#ff0000" stroke-width="1.2" stroke-linejoin="miter"/>
<line x1="1012.3" y1="1251.5" x2="1012.3" y2="1032.1" stroke="#ff0000" stroke-width="6.50"/>
</g>
<text transform="translate(239.64,1311.50) scale(1.0800,1)" font-size="30.50" fill="#000">25</text>
<text transform="translate(303.73,1311.50) scale(1.0800,1)" font-size="30.50" fill="#000">30</text>
<text transform="translate(367.71,1311.50) scale(1.0800,1)" font-size="30.50" fill="#000">35</text>
<text transform="translate(431.85,1311.50) scale(1.0800,1)" font-size="30.50" fill="#000">40</text>
<text transform="translate(495.83,1311.50) scale(1.0800,1)" font-size="30.50" fill="#000">45</text>
<text transform="translate(559.43,1311.50) scale(1.0800,1)" font-size="30.50" fill="#000">50</text>
<text transform="translate(623.41,1311.50) scale(1.0800,1)" font-size="30.50" fill="#000">55</text>
<text transform="translate(800.64,1311.50) scale(1.0800,1)" font-size="30.50" fill="#000">65</text>
<text transform="translate(864.51,1311.50) scale(1.0800,1)" font-size="30.50" fill="#000">70</text>
<text transform="translate(928.49,1311.50) scale(1.0800,1)" font-size="30.50" fill="#000">75</text>
<text transform="translate(992.51,1311.50) scale(1.0800,1)" font-size="30.50" fill="#000">80</text>
<text transform="translate(1056.49,1311.50) scale(1.0800,1)" font-size="30.50" fill="#000">85</text>
<text transform="translate(1120.32,1311.50) scale(1.0800,1)" font-size="30.50" fill="#000">90</text>
<text transform="translate(1184.30,1311.50) scale(1.0800,1)" font-size="30.50" fill="#000">95</text>
<text transform="translate(198.11,1007.80) scale(1.1749,1)" font-size="30.50" fill="#000">-20</text>
<text transform="translate(198.11,1078.00) scale(1.1749,1)" font-size="30.50" fill="#000">-40</text>
<text transform="translate(198.11,1148.20) scale(1.1749,1)" font-size="30.50" fill="#000">-60</text>
<text transform="translate(198.11,1218.40) scale(1.1749,1)" font-size="30.50" fill="#000">-80</text>
<text transform="translate(759.14,1007.80) scale(1.2279,1)" font-size="30.50" fill="#000">-20</text>
<text transform="translate(759.14,1078.00) scale(1.2279,1)" font-size="30.50" fill="#000">-40</text>
<text transform="translate(759.14,1148.20) scale(1.2279,1)" font-size="30.50" fill="#000">-60</text>
<text transform="translate(759.14,1218.40) scale(1.2279,1)" font-size="30.50" fill="#000">-80</text>
<text transform="translate(190.13,1275.00) scale(1.0086,1)" font-size="30.50" fill="#000">-100</text>
<text transform="translate(751.08,1287.80) scale(1.0479,1)" font-size="30.50" fill="#000">-100</text>
<text transform="translate(313.26,1344.50) scale(1.1073,1)" font-size="33.50" fill="#000">Frequency (kHz)</text>
<text transform="translate(873.95,1344.50) scale(1.1081,1)" font-size="33.50" fill="#000">Frequency (kHz)</text>
<text transform="translate(183.50,1254.73) rotate(-90) scale(1.0286,1)" font-size="33.00" fill="#000">Intensity (dBm)</text>
<text transform="translate(745.00,1254.73) rotate(-90) scale(1.0286,1)" font-size="33.00" fill="#000">Intensity (dBm)</text>
<line x1="448.8" y1="1045.3" x2="495.8" y2="1045.3" stroke="#000" stroke-width="5.00" stroke-linecap="round"/>
<line x1="451.7" y1="1231.5" x2="498.7" y2="1231.5" stroke="#000" stroke-width="5.00" stroke-linecap="round"/>
<line x1="472.8" y1="1065.3" x2="472.8" y2="1211.5" stroke="#000" stroke-width="5.00"/>
<polygon points="472.8,1047.3 482.8,1075.3 472.8,1071.3 462.8,1075.3" fill="#000"/>
<polygon points="472.8,1229.5 482.8,1201.5 472.8,1205.5 462.8,1201.5" fill="#000"/>
<text transform="translate(487.25,1154.70) scale(1.1713,1)" font-size="32.00" fill="#000">&gt;53dB</text>
<line x1="1010.2" y1="1033.0" x2="1058.0" y2="1033.0" stroke="#000" stroke-width="5.00" stroke-linecap="round"/>
<line x1="1016.4" y1="1233.3" x2="1063.2" y2="1233.3" stroke="#000" stroke-width="5.00" stroke-linecap="round"/>
<line x1="1035.7" y1="1053.0" x2="1035.7" y2="1213.3" stroke="#000" stroke-width="5.00"/>
<polygon points="1035.7,1035.0 1045.7,1063.0 1035.7,1059.0 1025.7,1063.0" fill="#000"/>
<polygon points="1035.7,1231.3 1045.7,1203.3 1035.7,1207.3 1025.7,1203.3" fill="#000"/>
<text transform="translate(1043.70,1151.60) scale(1.1425,1)" font-size="32.00" fill="#000">&gt;58dB</text>
</svg>
</body></html>
